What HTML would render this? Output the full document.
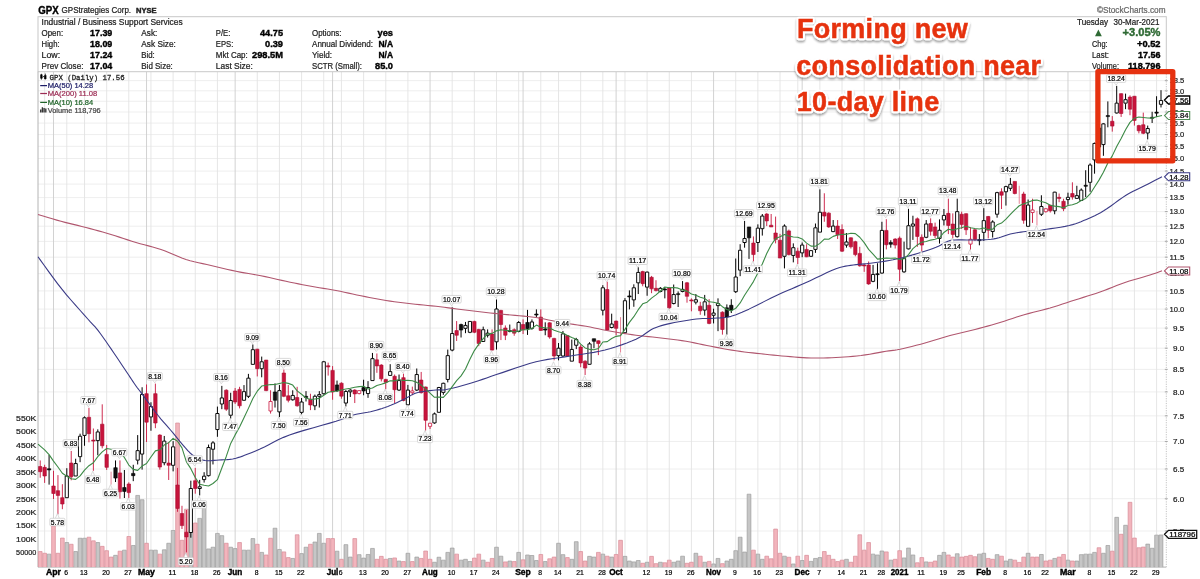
<!DOCTYPE html>
<html><head><meta charset="utf-8"><title>GPX</title>
<style>html,body{margin:0;padding:0;background:#fff}body{width:1200px;height:579px;overflow:hidden;font-family:"Liberation Sans",sans-serif}svg{display:block;will-change:transform}</style>
</head><body>
<svg width="1200" height="579" viewBox="0 0 1200 579" font-family="Liberation Sans, sans-serif">
<rect width="1200" height="579" fill="#fff"/>
<path d="M38 531.03H1166.3M38 498.72H1166.3M38 469H1166.3M38 441.48H1166.3M38 415.87H1166.3M38 391.9H1166.3M38 369.39H1166.3M38 348.17H1166.3M38 328.1H1166.3M38 309.05H1166.3M38 290.93H1166.3M38 273.66H1166.3M38 257.16H1166.3M38 241.35H1166.3M38 226.2H1166.3M38 211.63H1166.3M38 197.62H1166.3M38 184.12H1166.3M38 171.09H1166.3M38 158.5H1166.3M38 146.33H1166.3M38 134.54H1166.3M38 123.11H1166.3M38 112.03H1166.3M38 101.26H1166.3M38 90.8H1166.3M38 80.63H1166.3" stroke="#ececec" stroke-width="0.9" fill="none"/>
<path d="M44.64 71.7V567.1M66.8 71.7V567.1M84.52 71.7V567.1M106.66 71.7V567.1M128.81 71.7V567.1M150.96 71.7V567.1M173.11 71.7V567.1M195.26 71.7V567.1M217.41 71.7V567.1M257.28 71.7V567.1M279.43 71.7V567.1M301.58 71.7V567.1M323.73 71.7V567.1M341.45 71.7V567.1M363.6 71.7V567.1M385.75 71.7V567.1M407.9 71.7V567.1M452.2 71.7V567.1M474.35 71.7V567.1M496.5 71.7V567.1M518.65 71.7V567.1M540.8 71.7V567.1M558.52 71.7V567.1M580.67 71.7V567.1M602.82 71.7V567.1M624.97 71.7V567.1M647.12 71.7V567.1M669.27 71.7V567.1M691.42 71.7V567.1M735.72 71.7V567.1M757.88 71.7V567.1M780.02 71.7V567.1M797.75 71.7V567.1M819.89 71.7V567.1M842.04 71.7V567.1M864.19 71.7V567.1M881.91 71.7V567.1M921.78 71.7V567.1M943.93 71.7V567.1M961.65 71.7V567.1M1005.95 71.7V567.1M1028.11 71.7V567.1M1045.82 71.7V567.1M1090.12 71.7V567.1M1112.27 71.7V567.1M1134.42 71.7V567.1M1156.57 71.7V567.1" stroke="#e3e3e3" stroke-width="0.9" fill="none"/>
<path d="M53.5 71.7V567.1M146.53 71.7V567.1M235.13 71.7V567.1M332.59 71.7V567.1M430.05 71.7V567.1M523.09 71.7V567.1M616.12 71.7V567.1M713.57 71.7V567.1M802.17 71.7V567.1M899.63 71.7V567.1M983.8 71.7V567.1M1067.97 71.7V567.1" stroke="#cdcdcd" stroke-width="0.9" fill="none"/>
<rect x="38" y="16.7" width="1128.3" height="55" fill="#fff" stroke="#c8c8c8" stroke-width="1"/>
<path d="M38 71.7V567.1H1166.3" stroke="#b4b4b4" stroke-width="1" fill="none"/>
<path d="M1166.3 71.7V567.1" stroke="#c2c2c2" stroke-width="1" fill="none" stroke-dasharray="1.2 1.2"/>
<path d="M47.21 567.1V554.13H50.94V567.1M64.93 567.1V542.56H68.66V567.1M73.79 567.1V551.54H77.52V567.1M78.22 567.1V538.24H81.95V567.1M82.65 567.1V538.24H86.38V567.1M95.94 567.1V542.56H99.67V567.1M113.66 567.1V555.34H117.39V567.1M122.52 567.1V550.16H126.25V567.1M131.38 567.1V545.49H135.11V567.1M135.81 567.1V495.41H139.54V567.1M140.24 567.1V499.73H143.97V567.1M149.1 567.1V550.16H152.83V567.1M153.53 567.1V550.16H157.26V567.1M162.39 567.1V549.81H166.12V567.1M166.82 567.1V543.25H170.55V567.1M171.25 567.1V530.47H174.98V567.1M188.97 567.1V530.81H192.7V567.1M197.83 567.1V518.38H201.56V567.1M202.26 567.1V504.91H205.99V567.1M206.69 567.1V548.95H210.42V567.1M211.12 567.1V547.22H214.85V567.1M215.55 567.1V533.4H219.28V567.1M219.98 567.1V535.65H223.71V567.1M228.84 567.1V547.22H232.57V567.1M233.27 567.1V548.6H237V567.1M242.13 567.1V550.16H245.86V567.1M246.56 567.1V550.16H250.29V567.1M250.99 567.1V538.59H254.72V567.1M259.85 567.1V552.4H263.58V567.1M273.14 567.1V528.22H276.87V567.1M277.57 567.1V549.47H281.3V567.1M290.86 567.1V558.45H294.59V567.1M299.72 567.1V553.61H303.45V567.1M304.15 567.1V547.22H307.88V567.1M313.01 567.1V542.04H316.74V567.1M317.44 567.1V533.4H321.17V567.1M321.87 567.1V543.25H325.6V567.1M335.16 567.1V551.19H338.89V567.1M344.02 567.1V544.63H347.75V567.1M348.45 567.1V557.07H352.18V567.1M357.31 567.1V554.65H361.04V567.1M361.74 567.1V558.1H365.47V567.1M366.17 567.1V554.47H369.9V567.1M370.6 567.1V548.43H374.33V567.1M388.32 567.1V558.45H392.05V567.1M397.18 567.1V561.04H400.91V567.1M406.04 567.1V553.27H409.77V567.1M414.9 567.1V557.07H418.63V567.1M432.62 567.1V562.25H436.35V567.1M437.05 567.1V557.24H440.78V567.1M441.48 567.1V560.17H445.21V567.1M445.91 567.1V552.4H449.64V567.1M450.34 567.1V548.08H454.07V567.1M459.2 567.1V560.17H462.93V567.1M463.63 567.1V559.31H467.36V567.1M468.06 567.1V561.56H471.79V567.1M481.35 567.1V560.17H485.08V567.1M494.64 567.1V547.22H498.37V567.1M499.07 567.1V556.2H502.8V567.1M507.93 567.1V561.04H511.66V567.1M516.79 567.1V552.4H520.52V567.1M525.65 567.1V554.99H529.38V567.1M530.08 567.1V555.51H533.81V567.1M534.51 567.1V560.52H538.24V567.1M543.37 567.1V561.56H547.1V567.1M556.66 567.1V543.25H560.39V567.1M561.09 567.1V554.65H564.82V567.1M569.95 567.1V559.31H573.68V567.1M574.38 567.1V541.69H578.11V567.1M587.67 567.1V556.37H591.4V567.1M592.1 567.1V557.07H595.83V567.1M600.96 567.1V554.13H604.69V567.1M609.82 567.1V557.07H613.55V567.1M623.11 567.1V556.37H626.84V567.1M627.54 567.1V561.04H631.27V567.1M631.97 567.1V561.9H635.7V567.1M636.4 567.1V560.52H640.13V567.1M645.26 567.1V562.25H648.99V567.1M658.55 567.1V562.25H662.28V567.1M671.84 567.1V562.25H675.57V567.1M676.27 567.1V561.04H680V567.1M680.7 567.1V556.2H684.43V567.1M693.99 567.1V553.27H697.72V567.1M702.85 567.1V562.25H706.58V567.1M711.71 567.1V563.97H715.44V567.1M716.14 567.1V558.45H719.87V567.1M725 567.1V561.04H728.73V567.1M729.43 567.1V559.31H733.16V567.1M733.86 567.1V550.68H737.59V567.1M738.29 567.1V537.2H742.02V567.1M742.72 567.1V552.06H746.45V567.1M747.15 567.1V494.2H750.88V567.1M756.01 567.1V554.13H759.74V567.1M760.44 567.1V559.31H764.17V567.1M782.59 567.1V556.2H786.32V567.1M791.45 567.1V563.97H795.18V567.1M800.31 567.1V560.52H804.04V567.1M809.17 567.1V561.38H812.9V567.1M813.6 567.1V558.45H817.33V567.1M818.03 567.1V557.58H821.76V567.1M844.61 567.1V559.31H848.34V567.1M871.19 567.1V554.13H874.92V567.1M875.62 567.1V554.99H879.35V567.1M880.05 567.1V551.02H883.78V567.1M888.91 567.1V560.17H892.64V567.1M902.2 567.1V557.93H905.93V567.1M906.63 567.1V548.08H910.36V567.1M911.06 567.1V554.99H914.79V567.1M924.35 567.1V561.9H928.08V567.1M937.64 567.1V555.34H941.37V567.1M942.07 567.1V552.4H945.8V567.1M955.36 567.1V553.78H959.09V567.1M977.51 567.1V554.13H981.24V567.1M981.94 567.1V553.27H985.67V567.1M995.23 567.1V554.65H998.96V567.1M1004.09 567.1V561.04H1007.82V567.1M1008.52 567.1V559.31H1012.25V567.1M1026.24 567.1V553.27H1029.97V567.1M1039.53 567.1V554.47H1043.26V567.1M1052.82 567.1V558.45H1056.55V567.1M1066.11 567.1V560.17H1069.84V567.1M1074.97 567.1V561.04H1078.7V567.1M1079.4 567.1V554.65H1083.13V567.1M1083.83 567.1V554.13H1087.56V567.1M1088.26 567.1V554.13H1091.99V567.1M1092.69 567.1V552.4H1096.42V567.1M1101.55 567.1V553.27H1105.28V567.1M1105.98 567.1V545.49H1109.71V567.1M1114.84 567.1V517.34H1118.57V567.1M1123.7 567.1V525.29H1127.43V567.1M1145.85 567.1V544.11H1149.58V567.1M1150.28 567.1V548.26H1154.01V567.1M1154.71 567.1V535.13H1158.44V567.1M1159.14 567.1V534.96H1162.87V567.1" fill="#c6c6c6" stroke="#9c9c9c" stroke-width="0.7"/>
<path d="M38.35 567.1V551.54H42.08V567.1M42.78 567.1V553.27H46.51V567.1M51.64 567.1V525.98H55.37V567.1M56.07 567.1V553.27H59.8V567.1M60.5 567.1V538.07H64.23V567.1M69.36 567.1V544.28H73.09V567.1M87.08 567.1V537.2H90.81V567.1M91.51 567.1V540.83H95.24V567.1M100.37 567.1V546.36H104.1V567.1M104.8 567.1V550.68H108.53V567.1M109.23 567.1V557.07H112.96V567.1M118.09 567.1V551.19H121.82V567.1M126.95 567.1V536.51H130.68V567.1M144.67 567.1V543.25H148.4V567.1M157.96 567.1V554.13H161.69V567.1M175.68 567.1V423.04H179.41V567.1M180.11 567.1V540.31H183.84V567.1M184.54 567.1V509.22H188.27V567.1M193.4 567.1V523.04H197.13V567.1M224.41 567.1V543.25H228.14V567.1M237.7 567.1V542.56H241.43V567.1M255.42 567.1V544.28H259.15V567.1M264.28 567.1V554.99H268.01V567.1M268.71 567.1V538.24H272.44V567.1M282 567.1V551.88H285.73V567.1M286.43 567.1V557.58H290.16V567.1M295.29 567.1V534.79H299.02V567.1M308.58 567.1V544.28H312.31V567.1M326.3 567.1V538.59H330.03V567.1M330.73 567.1V538.59H334.46V567.1M339.59 567.1V559.31H343.32V567.1M352.88 567.1V538.59H356.61V567.1M375.03 567.1V559.31H378.76V567.1M379.46 567.1V556.37H383.19V567.1M383.89 567.1V559.31H387.62V567.1M392.75 567.1V557.93H396.48V567.1M401.61 567.1V561.56H405.34V567.1M410.47 567.1V561.56H414.2V567.1M419.33 567.1V558.45H423.06V567.1M423.76 567.1V551.02H427.49V567.1M428.19 567.1V559.31H431.92V567.1M454.77 567.1V554.13H458.5V567.1M472.49 567.1V558.1H476.22V567.1M476.92 567.1V554.13H480.65V567.1M485.78 567.1V562.25H489.51V567.1M490.21 567.1V558.45H493.94V567.1M503.5 567.1V561.9H507.23V567.1M512.36 567.1V561.56H516.09V567.1M521.22 567.1V559.83H524.95V567.1M538.94 567.1V554.47H542.67V567.1M547.8 567.1V558.79H551.53V567.1M552.23 567.1V557.07H555.96V567.1M565.52 567.1V557.58H569.25V567.1M578.81 567.1V551.54H582.54V567.1M583.24 567.1V561.04H586.97V567.1M596.53 567.1V552.4H600.26V567.1M605.39 567.1V556.2H609.12V567.1M614.25 567.1V554.47H617.98V567.1M618.68 567.1V540.31H622.41V567.1M640.83 567.1V563.28H644.56V567.1M649.69 567.1V556.37H653.42V567.1M654.12 567.1V563.63H657.85V567.1M662.98 567.1V562.77H666.71V567.1M667.41 567.1V560.17H671.14V567.1M685.13 567.1V563.28H688.86V567.1M689.56 567.1V562.25H693.29V567.1M698.42 567.1V556.2H702.15V567.1M707.28 567.1V561.38H711.01V567.1M720.57 567.1V563.63H724.3V567.1M751.58 567.1V550.16H755.31V567.1M764.87 567.1V556.2H768.6V567.1M769.3 567.1V558.79H773.03V567.1M773.73 567.1V529.09H777.46V567.1M778.16 567.1V553.27H781.89V567.1M787.02 567.1V557.24H790.75V567.1M795.88 567.1V556.2H799.61V567.1M804.74 567.1V555.34H808.47V567.1M822.46 567.1V551.54H826.19V567.1M826.89 567.1V555.34H830.62V567.1M831.32 567.1V559.31H835.05V567.1M835.75 567.1V561.56H839.48V567.1M840.18 567.1V560.17H843.91V567.1M849.04 567.1V562.25H852.77V567.1M853.47 567.1V556.2H857.2V567.1M857.9 567.1V534.79H861.63V567.1M862.33 567.1V550.16H866.06V567.1M866.76 567.1V542.56H870.49V567.1M884.48 567.1V551.88H888.21V567.1M893.34 567.1V559.31H897.07V567.1M897.77 567.1V550.68H901.5V567.1M915.49 567.1V562.77H919.22V567.1M919.92 567.1V557.58H923.65V567.1M928.78 567.1V562.25H932.51V567.1M933.21 567.1V561.04H936.94V567.1M946.5 567.1V554.99H950.23V567.1M950.93 567.1V557.07H954.66V567.1M959.79 567.1V557.07H963.52V567.1M964.22 567.1V556.37H967.95V567.1M968.65 567.1V555.34H972.38V567.1M973.08 567.1V556.72H976.81V567.1M986.37 567.1V558.45H990.1V567.1M990.8 567.1V559.31H994.53V567.1M999.66 567.1V556.2H1003.39V567.1M1012.95 567.1V560.17H1016.68V567.1M1017.38 567.1V562.42H1021.11V567.1M1021.81 567.1V557.07H1025.54V567.1M1030.67 567.1V557.07H1034.4V567.1M1035.1 567.1V557.07H1038.83V567.1M1043.96 567.1V561.04H1047.69V567.1M1048.39 567.1V560.17H1052.12V567.1M1057.25 567.1V557.07H1060.98V567.1M1061.68 567.1V554.47H1065.41V567.1M1070.54 567.1V561.04H1074.27V567.1M1097.12 567.1V547.74H1100.85V567.1M1110.41 567.1V551.19H1114.14V567.1M1119.27 567.1V534.27H1123V567.1M1128.13 567.1V502.32H1131.86V567.1M1132.56 567.1V538.07H1136.29V567.1M1136.99 567.1V547.74H1140.72V567.1M1141.42 567.1V547.05H1145.15V567.1" fill="#f2b4bc" stroke="#d98c98" stroke-width="0.7"/>
<path d="M111.09 471.68V484.63M620.54 317.13V352.54M1019.24 185.73V203.86M1036.96 210.81V225.49" stroke="#e0647c" stroke-width="0.8" fill="none"/>
<path d="M40.22 460.45V477.72M44.64 464.77V482.9M53.5 470.8V499M57.94 475.1V514.4M62.36 484.2V509.2M71.22 450.95V480.31M88.94 407.77V442.31M93.38 428.5V470.81M102.23 404.32V448.36M106.66 444.91V469.95M119.95 460.4V498.6M128.81 482.3V498M146.53 384.48V441.99M155.39 383.62V428.18M159.82 434.22V469.63M168.69 441.99V479.99M177.54 467.9V511.8M181.97 505.8V529M186.41 510V552.4M195.26 467.9V493.7M226.27 389.32V410.91M235.13 388V404M239.56 386.81V408.4M257.28 348.82V376.45M266.14 360.04V391.13M270.57 390.27V401.49M270.57 410.99V413.58M283.87 369.54V397.18M288.29 385.09V402.36M297.15 386.81V406.68M310.44 393.72V410.13M328.16 362.63V375.59M332.59 366.09V399.77M341.45 382.31V398.72M354.75 389.22V403.04M359.17 390.09V390.6M359.17 393.54V394.4M376.89 353.47V372.82M381.32 364.18V381.45M385.75 378.86V389.22M394.61 374.54V403.04M403.47 373.68V401.31M412.33 386.63V390.95M412.33 392.68V395.27M421.19 371.95V393.54M425.62 386.63V430.67M430.05 422.9V423.25M430.05 426.36V428.95M456.63 321.09V340.95M474.35 320.74V333.18M478.78 328.86V346.13M492.07 329.38V350.45M500.93 309.86V340.09M505.36 325.41V340.09M514.22 328.34V335.77M523.09 319.36V334.04M540.8 309.36V330.95M549.66 322.31V338.72M554.09 337.86V360.31M567.38 335.27V356.86M580.67 344.77V367.22M585.11 360.31V374.99M598.39 340.45V355.13M607.25 281.73V330.95M616.12 320.59V335.27M642.69 270.73V286.27M651.55 275.91V293.18M655.99 280.22V291.45M669.27 287.13V308.72M687 281.95V302.68M691.42 298.36V311.31M700.28 301.81V314.77M709.14 299.22V324.27M722.43 311.31V334.63M753.44 236.45V261.49M766.73 213.13V226.09M771.16 214V226.95M775.59 216.59V243.36M780.02 233.86V258.04M788.88 229.54V255.45M797.75 247.68V264.08M806.6 244.22V257.18M824.32 193.27V221.77M828.75 212.27V227.82M837.61 220.04V239.04M842.04 224.36V251.99M850.9 237.31V248.54M855.33 240.77V256.31M859.76 246.81V266.68M864.19 264.08V271.86M868.62 261.49V284.81M886.34 219.18V249.4M895.2 238.18V248.54M899.63 236.45V281.01M917.35 217.45V246.81M921.78 234.38V251.99M930.64 218.32V235.59M935.07 222.63V238.18M948.36 198.68V234.08M952.79 213.36V238.4M961.65 211.63V228.9M966.08 213.36V234.95M970.51 227.18V239.27M970.51 244.1V249.63M974.94 228.9V240.99M988.23 215.95V238.4M1001.52 188.32V209.04M1014.81 181.41V194.36M1023.67 191.77V223.72M1032.53 198.72V209.95M1032.53 212.54V222.9M1045.82 208.22V208.74M1045.82 211.68V212.54M1050.25 204.77V212.54M1059.11 193.54V202.18M1063.54 198.72V211.16M1072.4 182.31V199.59M1112.27 116.09V131.63M1121.13 93.29V116.95M1129.99 95.36V115.22M1134.42 96.22V125.59M1138.86 124.72V133.36M1143.28 112.63V134.22" stroke="#c8143c" stroke-width="0.9" fill="none"/>
<path d="M49.08 454.92V484.63M66.8 468.2V476M66.8 497.7V497.7M75.66 458.72V463.56M75.66 475.99V475.99M80.08 433.68V436.27M80.08 456.65V462.18M84.52 416.41V417.79M84.52 435.41V445.77M97.8 429.36V431.95M97.8 440.59V455.27M115.52 460.45V482.04M124.38 470V498M133.25 464.77V481.17M137.68 435.09V450.63M137.68 460.13V464.45M142.1 387.25V394.5M142.1 454.08V469.63M150.96 402.27V406.59M150.96 416.95V430.77M164.25 435.95V441.13M164.25 462.72V465.31M173.11 441.13V446.83M173.11 465.31V471.36M190.83 480.7V488.5M190.83 532.5V537.7M199.69 479.9V486.8M199.69 488.5V495.4M204.12 472.2V476.2M204.12 479.6V482.6M208.55 444.59V447.52M208.55 475.67V476.54M212.98 441.13V442.86M212.98 449.25V464.45M217.41 406.59V413.5M217.41 429.56V436.81M221.84 385.86V397.95M221.84 404V409.18M230.7 392.77V400.54M230.7 415.22V418.68M243.99 385.09V391.65M243.99 400.28V400.63M248.42 373.86V378.18M248.42 396.31V398.04M252.85 344.5V349.68M252.85 364.36V364.36M261.71 356.59V361.77M261.71 368.68V377.31M275 383.36V407.54M279.43 385.09V390.61M279.43 411.86V417.04M292.73 390.27V395.45M292.73 399.77V400.63M301.58 398.04V402.01M301.58 412.37V414.45M306.01 391.13V401.49M314.88 394.59V396.31M314.88 405.81V410.13M319.31 391.13V394.59M319.31 396.31V407.54M323.73 360.91V361.77M323.73 393.72V394.59M337.02 380.59V391.81M345.88 390.09V391.47M345.88 403.04V406.49M350.31 389.22V390.09M350.31 391.81V396.99M363.6 379.72V395.27M368.03 381.11V387.5M368.03 393.54V397.86M372.46 352.95V358.65M372.46 380.59V380.59M390.19 364.18V371.61M390.19 375.41V375.41M399.04 374.54V380.59M399.04 390.09V390.95M407.9 384.91V390.09M407.9 404.77V405.28M416.76 368.5V374.54M416.76 390.09V390.95M434.48 412.54V413.92M434.48 422.9V423.77M438.91 386.9V387.5M438.91 412.3V412.5M443.34 382.7V383.3M443.34 392.4V394.8M447.77 349.59V355.63M447.77 379.46V382.4M452.2 307.27V333.52M452.2 350.1V351.31M461.06 323.68V337.5M465.49 321.95V325.41M465.49 328.34V333.18M469.92 321.09V321.43M469.92 332.31V333.18M483.21 326.61V329.72M483.21 341.47V341.81M487.64 329.38V333.18M487.64 335.25V337.5M496.5 299.5V309M496.5 341.81V349.59M509.79 324.54V332.31M518.65 321.09V322.47M518.65 331.45V332.31M527.51 309.86V334.91M531.94 319.36V321.95M531.94 328.34V329.72M536.38 309.36V317.13M545.23 322.31V335.27M558.52 343.04V348.22M558.52 355.65V360.31M562.95 330.95V333.89M562.95 355.99V356.86M571.81 339.59V349.43M571.81 361.17V361.17M576.25 337.86V339.59M576.25 345.28V349.08M589.53 342.18V343.9M589.53 364.28V364.63M593.96 338.72V348.22M602.82 285.18V287.77M602.82 310.22V315.41M611.68 313.68V324.04M611.68 327.5V328.36M624.97 298.13V300.73M624.97 332.68V332.68M629.4 290.36V309.36M633.83 284.32V287.77M633.83 299.86V306.77M638.26 267.27V272.45M638.26 282.82V294.04M647.12 271.59V272.11M647.12 287.13V295.77M660.41 287.13V288.34M660.41 291.45V292.31M664.84 287.13V298.36M673.7 284.54V294.56M673.7 303.54V304.4M678.13 291.45V306.99M682.56 281.09V289.38M682.56 291.45V292.31M695.85 294.04V299.74M695.85 302.16V304.4M704.71 294.91V301.81M704.71 310.1V315.63M713.57 308.72V313.04M713.57 315.28V323.4M718 298.36V303.54M718 305.61V331.17M726.87 304.4V334.63M731.29 299.22V313.04M735.72 258.5V277M735.72 291.7V293M740.15 244.22V250.27M740.15 270.13V276.17M744.58 220.91V238.52M744.58 242.5V247.68M749.01 226.95V258.9M757.88 224.36V228.16M757.88 242.5V251.99M762.3 214V216.07M762.3 228.68V235.59M784.45 224.36V226.09M784.45 256.31V268.4M793.31 243.36V247.68M793.31 255.45V262.36M802.17 242.5V245.09M802.17 252.86V257.18M811.03 250.27V250.61M811.03 256.31V256.83M815.46 223.5V227.82M815.46 249.4V252.86M819.89 189.3V212.27M819.89 232.13V232.13M833.18 220.04V226.09M833.18 231.61V232.13M846.47 233V241.98M846.47 245.09V247.68M873.05 264.95V274.45M873.05 281.36V282.22M877.48 263.22V289.13M881.91 221.77V230.41M881.91 273.07V273.58M890.77 240.25V247.68M904.06 241.63V258.56M904.06 271.86V272.72M908.49 208.82V225.74M908.49 248.89V249.4M912.92 215.73V224.02M912.92 226.09V239.91M926.21 220.04V224.02M926.21 237.31V238.18M939.5 219.4V230.28M939.5 238.4V243.58M943.93 209.04V215.43M943.93 219.92V225.45M957.22 198.68V211.63M957.22 236.68V237.54M979.37 234.08V245.31M983.8 208.18V220.61M983.8 232.36V240.99M992.66 220.27V221.99M992.66 231.49V237.54M997.09 191.77V192.63M997.09 214.22V217.68M1005.95 185.73V186.59M1005.95 191.77V205.59M1010.38 177.95V184.34M1010.38 188.32V190.91M1028.11 199.54V205.07M1028.11 226.31V226.31M1041.39 195.27V206.49M1041.39 214.27V215.99M1054.68 191.81V192.16M1054.68 210.81V214.27M1067.97 192.68V197.34M1067.97 199.59V204.77M1076.84 185.77V195.61M1076.84 198.38V198.72M1081.26 188.36V190.09M1081.26 200.45V200.79M1085.69 170.22V196.99M1090.12 163.32V165.04M1090.12 182.31V191.81M1094.55 142.59V143.45M1094.55 159.86V173.68M1098.98 126V128M1098.98 147V150M1103.41 122.99V123.86M1103.41 144.58V155.81M1107.85 101.41V127.31M1116.7 85.86V103.13M1116.7 112.98V113.5M1125.56 93.63V99.68M1125.56 103.13V109.18M1147.71 125.59V128.52M1147.71 133.01V139.4M1152.14 111.77V122.99M1156.57 96.22V116.95M1161 90.18V100.54M1161 104.34V107.45" stroke="#000" stroke-width="1" fill="none"/>
<path d="M38.52 466.49H41.92V471.68H38.52ZM42.94 467.36H46.34V475.99H42.94ZM51.8 486H55.2V493.5H51.8ZM56.23 490.7H59.64V495.4H56.23ZM60.66 497.7H64.06V504H60.66ZM69.52 463.04H72.92V476.86H69.52ZM87.24 417.27H90.64V433.68H87.24ZM91.67 440.07H95.08V441.11H91.67ZM100.53 424.18H103.94V445.77H100.53ZM104.96 454.4H108.36V467.36H104.96ZM118.25 472.9H121.66V491.8H118.25ZM127.11 484H130.51V492.6H127.11ZM144.84 393.64H148.23V422.13H144.84ZM153.69 393.64H157.09V423H153.69ZM158.12 435.09H161.52V467.04H158.12ZM166.99 463.07H170.38V465.31H166.99ZM175.84 485H179.24V508.4H175.84ZM180.28 513.5H183.67V525.6H180.28ZM184.71 532.2H188.1V536.9H184.71ZM193.56 480.7H196.96V488.5H193.56ZM224.57 390.18H227.97V409.18H224.57ZM233.44 391H236.83V402H233.44ZM237.87 389.4H241.26V405.81H237.87ZM255.58 349.16H258.98V368.68H255.58ZM264.44 360.04H267.84V390.61H264.44ZM282.17 373H285.56V396.31H282.17ZM286.59 395.79H289.99V400.28H286.59ZM295.45 397.52H298.85V405.81H295.45ZM308.75 399.25H312.14V404.95H308.75ZM326.46 365.74H329.86V366.95H326.46ZM330.89 370.41H334.29V391.99H330.89ZM339.75 383.18H343.15V396.13H339.75ZM353.05 390.09H356.44V393.89H353.05ZM375.19 359.86H378.59V365.91H375.19ZM379.62 365.04H383.02V378.86H379.62ZM384.06 379.38H387.45V382.31H384.06ZM392.91 376.27H396.31V389.74H392.91ZM401.77 377.65H405.17V400.45H401.77ZM419.5 380.07H422.89V392.68H419.5ZM423.93 386.98H427.32V420.31H423.93ZM454.94 330.59H458.33V335.25H454.94ZM472.65 321.43H476.05V332.31H472.65ZM477.08 329.38H480.48V343.54H477.08ZM490.38 334.04H493.77V350.1H490.38ZM499.23 310.38H502.63V324.54H499.23ZM503.66 328H507.06V335.25H503.66ZM512.52 329.72H515.92V333.18H512.52ZM521.38 324.54H524.79V329.72H521.38ZM539.1 317.13H542.5V330.43H539.1ZM547.96 322.83H551.37V336.99H547.96ZM552.39 338.38H555.79V355.99H552.39ZM565.68 335.61H569.09V355.99H565.68ZM578.97 347.01H582.38V362.9H578.97ZM583.4 361.17H586.81V368.08H583.4ZM596.69 340.79H600.1V343.56H596.69ZM605.55 289.5H608.96V330.09H605.55ZM614.41 321.11H617.82V328.36H614.41ZM640.99 271.59H644.39V283.68H640.99ZM649.85 277.29H653.25V288.86H649.85ZM654.28 288.34H657.69V290.59H654.28ZM667.57 288H670.98V307.86H667.57ZM685.29 282.82H688.7V296.29H685.29ZM689.72 299.91H693.12V300.95H689.72ZM698.58 306.13H701.99V310.79H698.58ZM707.44 305.27H710.85V323.4H707.44ZM720.73 312.18H724.13V329.45H720.73ZM751.74 243.01H755.14V254.59H751.74ZM765.03 214H768.43V220.91H765.03ZM769.46 225.22H772.87V226.95H769.46ZM773.89 233H777.29V239.56H773.89ZM778.32 240.25H781.73V258.04H778.32ZM787.18 230.92H790.59V254.59H787.18ZM796.04 251.13H799.45V257.52H796.04ZM804.9 249.4H808.3V256.83H804.9ZM822.62 212.27H826.02V216.07H822.62ZM827.05 213.13H830.46V226.95H827.05ZM835.91 226.09H839.31V234.72H835.91ZM840.34 229.54H843.75V251.13H840.34ZM849.2 237.83H852.61V246.81H849.2ZM853.63 241.63H857.03V254.59H853.63ZM858.06 253.38H861.47V265.81H858.06ZM862.49 264.95H865.89V265.98H862.49ZM866.92 264.95H870.33V283.95H866.92ZM884.64 230.41H888.04V244.74H884.64ZM893.5 239.04H896.9V245.09H893.5ZM897.93 238.18H901.34V269.27H897.93ZM915.65 218.83H919.05V236.45H915.65ZM920.08 237.31H923.49V245.09H920.08ZM928.94 223.5H932.35V231.27H928.94ZM933.37 226.95H936.77V235.59H933.37ZM946.66 213.36H950.06V225.45H946.66ZM951.09 224.07H954.5V234.43H951.09ZM959.95 214.22H963.36V224.59H959.95ZM964.38 213.7H967.78V229.77H964.38ZM973.24 229.77H976.64V239.61H973.24ZM986.53 216.47H989.93V230.28H986.53ZM999.82 191.77H1003.23V195.22H999.82ZM1013.11 181.41H1016.51V193.5H1013.11ZM1021.97 194.02H1025.38V220.27H1021.97ZM1048.55 205.28H1051.95V210.81H1048.55ZM1057.41 197.34H1060.81V198.38H1057.41ZM1061.84 201.31H1065.24V208.74H1061.84ZM1070.7 193.54H1074.11V196.99H1070.7ZM1110.57 121.27H1113.97V126.1H1110.57ZM1119.43 93.63H1122.84V113.5H1119.43ZM1128.29 97.09H1131.69V109.18H1128.29ZM1132.72 96.22H1136.12V120.4H1132.72ZM1137.15 125.59H1140.56V130.77H1137.15ZM1141.58 124.72H1144.98V133.36H1141.58Z" fill="#c8143c" stroke="#a80f32" stroke-width="0.6"/>
<path d="M47.38 468.74H50.78V469.95H47.38ZM113.82 467.7H117.22V478.07H113.82ZM122.68 487.6H126.08V491.4H122.68ZM131.55 473.4H134.94V475.65H131.55ZM273.31 391.99H276.7V400.28H273.31ZM304.31 396.31H307.71V397.52H304.31ZM335.32 384.91H338.72V390.95H335.32ZM361.9 387.5H365.3V390.95H361.9ZM459.37 324.54H462.76V330.07H459.37ZM508.09 330.57H511.49V331.47H508.09ZM525.81 322.47H529.22V328.86H525.81ZM534.67 314.02H538.08V315.06H534.67ZM543.53 328.88H546.93V330.09H543.53ZM592.26 338.72H595.66V341.31H592.26ZM627.7 295.89H631.11V296.93H627.7ZM663.14 289.01H666.54V289.91H663.14ZM676.43 293.68H679.84V294.58H676.43ZM725.16 307.86H728.57V317.01H725.16ZM729.59 305.27H733V310.1H729.59ZM747.31 226.95H750.72V237.83H747.31ZM875.78 273.74H879.18V274.64H875.78ZM889.07 242.5H892.48V244.22H889.07ZM977.67 239.61H981.07V240.65H977.67ZM1083.99 185.25H1087.39V186.29H1083.99ZM1106.14 115.57H1109.55V116.6H1106.14ZM1150.44 117.3H1153.85V118.33H1150.44ZM1154.87 112.11H1158.27V113.15H1154.87Z" fill="#111" stroke="#000" stroke-width="0.6"/>
<path d="M65.2 476H68.39V497.7H65.2ZM74.06 463.56H77.25V475.99H74.06ZM78.48 436.27H81.68V456.65H78.48ZM82.92 417.79H86.11V435.41H82.92ZM96.2 431.95H99.4V440.59H96.2ZM136.08 450.63H139.28V460.13H136.08ZM140.5 394.5H143.7V454.08H140.5ZM149.36 406.59H152.56V416.95H149.36ZM162.66 441.13H165.85V462.72H162.66ZM171.51 446.83H174.71V465.31H171.51ZM189.23 488.5H192.43V532.5H189.23ZM198.09 486.8H201.29V488.5H198.09ZM202.53 476.2H205.72V479.6H202.53ZM206.95 447.52H210.15V475.67H206.95ZM211.38 442.86H214.58V449.25H211.38ZM215.81 413.5H219.01V429.56H215.81ZM220.25 397.95H223.44V404H220.25ZM229.1 400.54H232.3V415.22H229.1ZM242.39 391.65H245.59V400.28H242.39ZM246.82 378.18H250.02V396.31H246.82ZM251.25 349.68H254.45V364.36H251.25ZM260.11 361.77H263.31V368.68H260.11ZM277.83 390.61H281.03V411.86H277.83ZM291.12 395.45H294.33V399.77H291.12ZM299.98 402.01H303.19V412.37H299.98ZM313.27 396.31H316.48V405.81H313.27ZM317.7 394.59H320.91V396.31H317.7ZM322.13 361.77H325.33V393.72H322.13ZM344.28 391.47H347.49V403.04H344.28ZM348.71 390.09H351.92V391.81H348.71ZM366.43 387.5H369.63V393.54H366.43ZM370.86 358.65H374.06V380.59H370.86ZM388.58 371.61H391.79V375.41H388.58ZM397.44 380.59H400.64V390.09H397.44ZM406.3 390.09H409.5V404.77H406.3ZM415.16 374.54H418.37V390.09H415.16ZM432.88 413.92H436.08V422.9H432.88ZM437.31 387.5H440.51V412.3H437.31ZM441.74 383.3H444.94V392.4H441.74ZM446.17 355.63H449.38V379.46H446.17ZM450.6 333.52H453.81V350.1H450.6ZM463.89 325.41H467.09V328.34H463.89ZM468.32 321.43H471.52V332.31H468.32ZM481.61 329.72H484.81V341.47H481.61ZM486.04 333.18H489.25V335.25H486.04ZM494.9 309H498.11V341.81H494.9ZM517.05 322.47H520.25V331.45H517.05ZM530.34 321.95H533.54V328.34H530.34ZM556.92 348.22H560.12V355.65H556.92ZM561.35 333.89H564.55V355.99H561.35ZM570.21 349.43H573.41V361.17H570.21ZM574.64 339.59H577.85V345.28H574.64ZM587.93 343.9H591.13V364.28H587.93ZM601.22 287.77H604.42V310.22H601.22ZM610.08 324.04H613.28V327.5H610.08ZM623.37 300.73H626.57V332.68H623.37ZM632.23 287.77H635.43V299.86H632.23ZM636.66 272.45H639.87V282.82H636.66ZM645.52 272.11H648.73V287.13H645.52ZM658.81 288.34H662.01V291.45H658.81ZM672.1 294.56H675.3V303.54H672.1ZM680.96 289.38H684.16V291.45H680.96ZM694.25 299.74H697.45V302.16H694.25ZM703.11 301.81H706.31V310.1H703.11ZM711.97 313.04H715.17V315.28H711.97ZM716.4 303.54H719.61V305.61H716.4ZM734.12 277H737.32V291.7H734.12ZM738.55 250.27H741.75V270.13H738.55ZM742.98 238.52H746.18V242.5H742.98ZM756.27 228.16H759.48V242.5H756.27ZM760.7 216.07H763.9V228.68H760.7ZM782.85 226.09H786.05V256.31H782.85ZM791.71 247.68H794.91V255.45H791.71ZM800.57 245.09H803.77V252.86H800.57ZM809.43 250.61H812.63V256.31H809.43ZM813.86 227.82H817.06V249.4H813.86ZM818.29 212.27H821.5V232.13H818.29ZM831.58 226.09H834.78V231.61H831.58ZM844.87 241.98H848.07V245.09H844.87ZM871.45 274.45H874.65V281.36H871.45ZM880.31 230.41H883.51V273.07H880.31ZM902.46 258.56H905.66V271.86H902.46ZM906.89 225.74H910.09V248.89H906.89ZM911.32 224.02H914.52V226.09H911.32ZM924.61 224.02H927.81V237.31H924.61ZM937.9 230.28H941.11V238.4H937.9ZM942.33 215.43H945.53V219.92H942.33ZM955.62 211.63H958.82V236.68H955.62ZM982.2 220.61H985.4V232.36H982.2ZM991.06 221.99H994.26V231.49H991.06ZM995.49 192.63H998.69V214.22H995.49ZM1004.35 186.59H1007.55V191.77H1004.35ZM1008.78 184.34H1011.99V188.32H1008.78ZM1026.51 205.07H1029.7V226.31H1026.51ZM1039.8 206.49H1042.99V214.27H1039.8ZM1053.09 192.16H1056.28V210.81H1053.09ZM1066.38 197.34H1069.57V199.59H1066.38ZM1075.24 195.61H1078.43V198.38H1075.24ZM1079.66 190.09H1082.86V200.45H1079.66ZM1088.53 165.04H1091.72V182.31H1088.53ZM1092.95 143.45H1096.15V159.86H1092.95ZM1097.38 128H1100.58V147H1097.38ZM1101.82 123.86H1105.01V144.58H1101.82ZM1115.11 103.13H1118.3V112.98H1115.11ZM1123.96 99.68H1127.16V103.13H1123.96ZM1146.12 128.52H1149.31V133.01H1146.12ZM1159.4 100.54H1162.6V104.34H1159.4Z" fill="#fff" stroke="#000" stroke-width="0.95"/>
<path d="M268.97 401.49H272.18V410.99H268.97ZM357.57 390.6H360.77V393.54H357.57ZM410.73 390.95H413.94V392.68H410.73ZM428.45 423.25H431.65V426.36H428.45ZM968.91 239.27H972.12V244.1H968.91ZM1030.93 209.95H1034.13V212.54H1030.93ZM1044.22 208.74H1047.42V211.68H1044.22Z" fill="#fff" stroke="#c8143c" stroke-width="0.8"/>
<path d="M38 214.5L40.48 215.25L43.89 216.29L47.94 217.51L52.33 218.83L56.78 220.12L61 221.3L65.05 222.36L69.19 223.38L73.38 224.39L77.59 225.4L81.81 226.43L86 227.5L90.17 228.61L94.33 229.74L98.5 230.89L102.67 232.06L106.83 233.27L111 234.5L115.17 235.79L119.33 237.13L123.5 238.5L127.67 239.87L131.83 241.21L136 242.5L140.17 243.69L144.33 244.8L148.5 245.88L152.67 246.98L156.83 248.17L161 249.5L165.17 251.04L169.33 252.76L173.5 254.56L177.67 256.35L181.83 258.03L186 259.5L190.17 260.73L194.33 261.8L198.5 262.76L202.67 263.66L206.83 264.56L211 265.5L215.17 266.49L219.33 267.5L223.5 268.49L227.67 269.47L231.83 270.41L236 271.3L240.17 272.11L244.33 272.86L248.5 273.57L252.67 274.27L256.83 275.01L261 275.8L265.17 276.66L269.33 277.58L273.5 278.52L277.67 279.47L281.83 280.4L286 281.3L290.17 282.17L294.33 283.03L298.5 283.88L302.67 284.71L306.83 285.52L311 286.3L315.17 287.03L319.33 287.72L323.5 288.38L327.67 289.05L331.83 289.75L336 290.5L340.17 291.33L344.33 292.21L348.5 293.12L352.67 294.04L356.83 294.94L361 295.8L365.17 296.63L369.33 297.46L373.5 298.27L377.67 299.06L381.83 299.8L386 300.5L390.17 301.14L394.33 301.73L398.5 302.29L402.67 302.81L406.83 303.31L411 303.8L415.17 304.25L419.33 304.67L423.5 305.06L427.67 305.44L431.83 305.85L436 306.3L440.17 306.8L444.33 307.32L448.5 307.87L452.67 308.42L456.83 308.97L461 309.5L465.17 310.02L469.33 310.53L473.5 311.04L477.67 311.54L481.83 312.03L486 312.5L490.17 312.95L494.33 313.37L498.5 313.78L502.67 314.19L506.83 314.59L511 315L515.17 315.39L519.33 315.74L523.5 316.09L527.67 316.48L531.83 316.94L536 317.5L540.17 318.2L544.33 319.03L548.5 319.92L552.67 320.83L556.83 321.71L561 322.5L565.17 323.19L569.33 323.81L573.5 324.4L577.67 324.99L581.83 325.61L586 326.3L590.17 327.08L594.33 327.92L598.5 328.79L602.67 329.67L606.83 330.52L611 331.3L615.17 332.03L619.33 332.72L623.5 333.39L627.67 334.02L631.83 334.63L636 335.2L640.17 335.72L644.33 336.2L648.5 336.64L652.67 337.07L656.83 337.52L661 338L665.17 338.5L669.33 339L673.5 339.51L677.67 340.06L681.83 340.65L686 341.3L690.17 342.04L694.33 342.86L698.5 343.73L702.67 344.61L706.83 345.48L711 346.3L715.17 347.1L719.33 347.89L723.5 348.68L727.67 349.43L731.83 350.14L736 350.8L740.17 351.39L744.33 351.93L748.5 352.43L752.67 352.89L756.83 353.35L761 353.8L765.17 354.25L769.33 354.7L773.5 355.13L777.67 355.54L781.83 355.94L786 356.3L790.17 356.66L794.33 357.01L798.5 357.34L802.67 357.63L806.83 357.85L811 358L815.17 358.06L819.33 358.05L823.5 357.98L827.67 357.86L831.83 357.7L836 357.5L840.17 357.28L844.33 357.03L848.5 356.73L852.67 356.39L856.83 355.98L861 355.5L865.29 354.9L869.74 354.19L874.19 353.41L878.48 352.63L882.47 351.9L886 351.3L888.84 350.88L891.07 350.6L893 350.38L894.93 350.13L897.16 349.76L900 349.2L903.53 348.42L907.52 347.49L911.81 346.44L916.26 345.31L920.71 344.16L925 343L929.17 341.81L933.33 340.54L937.5 339.24L941.67 337.94L945.83 336.68L950 335.5L954.17 334.42L958.33 333.43L962.5 332.47L966.67 331.52L970.83 330.54L975 329.5L979.17 328.4L983.33 327.28L987.5 326.12L991.67 324.94L995.83 323.74L1000 322.5L1004.17 321.21L1008.33 319.85L1012.5 318.47L1016.67 317.09L1020.83 315.76L1025 314.5L1029.17 313.35L1033.33 312.28L1037.5 311.25L1041.67 310.22L1045.83 309.15L1050 308L1054.17 306.75L1058.33 305.44L1062.5 304.09L1066.67 302.72L1070.83 301.35L1075 300L1079.17 298.68L1083.33 297.39L1087.5 296.09L1091.67 294.78L1095.83 293.42L1100 292L1104.17 290.48L1108.33 288.87L1112.5 287.22L1116.67 285.57L1120.83 283.98L1125 282.5L1129.32 281.1L1133.81 279.73L1138.31 278.42L1142.63 277.18L1146.59 276.04L1150 275L1152.89 274.06L1155.41 273.2L1157.56 272.43L1159.37 271.77L1160.84 271.22L1162 270.8" stroke="#b0566e" stroke-width="1.1" fill="none" stroke-linejoin="round"/>
<path d="M38 256.8L40.58 260.36L44.12 265.3L48.33 271.14L52.9 277.39L57.52 283.58L61.9 289.2L66.28 294.53L70.96 300L75.69 305.39L80.24 310.5L84.36 315.11L87.8 319L90.37 321.88L92.23 323.86L93.65 325.34L94.93 326.71L96.35 328.36L98.2 330.7L100.5 333.77L103.01 337.27L105.68 341.05L108.4 344.98L111.1 348.91L113.7 352.7L116.29 356.5L118.96 360.46L121.6 364.43L124.13 368.24L126.46 371.75L128.5 374.8L130.2 377.35L131.63 379.5L132.85 381.36L133.94 383L134.97 384.51L136 386L136.86 387.2L137.46 387.99L137.99 388.65L138.66 389.48L139.66 390.77L141.2 392.8L143.44 395.82L146.27 399.66L149.42 403.95L152.68 408.34L155.78 412.48L158.5 416L160.75 418.79L162.7 421.1L164.5 423.16L166.3 425.19L168.25 427.39L170.5 430L173.19 433.22L176.23 436.91L179.41 440.79L182.54 444.56L185.41 447.93L187.8 450.6L189.63 452.48L191.04 453.79L192.19 454.7L193.23 455.37L194.32 455.98L195.6 456.7L197.02 457.52L198.44 458.3L199.91 459.01L201.47 459.64L203.15 460.14L205 460.5L207.03 460.68L209.21 460.7L211.53 460.6L213.94 460.42L216.44 460.21L219 460L221.58 459.86L224.19 459.77L226.88 459.64L229.7 459.4L232.73 458.94L236 458.2L239.53 457.15L243.28 455.86L247.22 454.36L251.33 452.7L255.6 450.9L260 449L264.4 446.94L268.8 444.68L273.34 442.28L278.2 439.82L283.54 437.37L289.5 435L296.6 432.61L304.82 430.14L313.51 427.67L322.03 425.31L329.74 423.15L336 421.3L340.57 419.79L343.93 418.54L346.48 417.5L348.62 416.6L350.76 415.79L353.3 415L356.17 414.3L359.04 413.75L361.9 413.28L364.76 412.83L367.63 412.33L370.5 411.7L373.38 410.97L376.26 410.2L379.15 409.38L382.04 408.5L384.92 407.54L387.8 406.5L390.73 405.33L393.73 404.03L396.73 402.65L399.66 401.26L402.44 399.93L405 398.7L407.22 397.56L409.13 396.44L410.89 395.38L412.67 394.39L414.66 393.49L417 392.7L419.86 392.03L423.13 391.47L426.6 391.01L430.04 390.61L433.25 390.28L436 390L438.07 389.86L439.6 389.88L440.88 389.97L442.24 390.01L443.97 389.89L446.4 389.5L449.6 388.83L453.35 387.95L457.48 386.91L461.83 385.76L466.22 384.54L470.5 383.3L474.55 382.04L478.49 380.74L482.48 379.36L486.69 377.9L491.27 376.32L496.4 374.6L502.27 372.62L508.77 370.38L515.66 368.02L522.67 365.7L529.54 363.58L536 361.8L542.05 360.43L547.88 359.36L553.57 358.47L559.19 357.69L564.81 356.9L570.5 356L576.29 355.07L582.13 354.19L587.97 353.31L593.76 352.36L599.45 351.28L605 350L610.53 348.48L616.1 346.75L621.57 344.89L626.81 342.96L631.67 341.04L636 339.2L639.68 337.36L642.79 335.45L645.51 333.55L648.05 331.73L650.58 330.05L653.3 328.6L656.07 327.41L658.72 326.44L661.36 325.61L664.13 324.87L667.13 324.16L670.5 323.4L674.41 322.58L678.81 321.74L683.44 320.93L688.08 320.17L692.48 319.52L696.4 319L699.72 318.69L702.62 318.56L705.28 318.54L707.88 318.53L710.63 318.44L713.7 318.2L716.91 317.97L720.05 317.87L723.34 317.69L726.96 317.24L731.11 316.35L736 314.8L741.97 312.36L748.93 309.13L756.42 305.44L763.99 301.63L771.17 298.04L777.5 295L782.85 292.57L787.57 290.5L791.91 288.65L796.09 286.87L800.38 285.04L805 283L810.12 280.64L815.58 278.04L821.14 275.39L826.55 272.84L831.59 270.59L836 268.8L839.68 267.54L842.79 266.69L845.51 266.13L848.05 265.73L850.58 265.4L853.3 265L856.11 264.6L858.84 264.31L861.57 264.08L864.38 263.84L867.33 263.57L870.5 263.2L873.96 262.75L877.67 262.25L881.53 261.71L885.44 261.13L889.29 260.49L893 259.8L896.54 259.06L899.97 258.28L903.36 257.44L906.75 256.56L910.18 255.61L913.7 254.6L917.46 253.48L921.46 252.25L925.49 250.96L929.39 249.67L932.95 248.43L936 247.3L938.44 246.25L940.41 245.23L942.06 244.26L943.51 243.37L944.91 242.58L946.4 241.9L947.76 241.36L948.82 240.94L949.84 240.61L951.04 240.36L952.68 240.17L955 240L958.21 239.91L962.17 239.92L966.56 239.98L971.07 240.05L975.39 240.07L979.2 240L982.51 239.86L985.57 239.69L988.44 239.48L991.17 239.2L993.81 238.85L996.4 238.4L998.89 237.81L1001.22 237.07L1003.46 236.26L1005.67 235.43L1007.93 234.66L1010.3 234L1012.85 233.45L1015.54 232.95L1018.28 232.51L1020.97 232.11L1023.5 231.78L1025.8 231.5L1027.84 231.31L1029.7 231.21L1031.41 231.17L1033.01 231.14L1034.53 231.1L1036 231L1037.17 230.88L1037.96 230.77L1038.67 230.64L1039.6 230.46L1041.04 230.19L1043.3 229.8L1046.64 229.28L1050.88 228.66L1055.63 227.96L1060.52 227.18L1065.17 226.36L1069.2 225.5L1072.57 224.62L1075.57 223.69L1078.34 222.72L1080.98 221.69L1083.63 220.58L1086.4 219.4L1089.22 218.19L1091.97 216.97L1094.73 215.69L1097.56 214.27L1100.53 212.66L1103.7 210.8L1107.17 208.55L1110.89 205.93L1114.74 203.12L1118.63 200.3L1122.42 197.63L1126 195.3L1129.38 193.32L1132.65 191.57L1135.83 189.98L1138.94 188.47L1141.99 187L1145 185.5L1148.15 183.89L1151.44 182.2L1154.69 180.54L1157.67 179.01L1160.17 177.73L1162 176.8" stroke="#3a3a86" stroke-width="1.1" fill="none" stroke-linejoin="round"/>
<path d="M38 444.13L44.64 449.89L49.08 454.63L53.5 461.09L57.94 466.98L62.36 473.2L66.8 476.22L71.22 478.77L75.66 479.38L80.08 475.88L84.52 470.06L88.94 465.67L93.38 462.72L97.8 456.61L102.23 451.86L106.66 448.52L111.09 449.29L115.52 449.4L119.95 452.03L124.38 457.41L128.81 465.03L133.25 469.37L137.68 470.38L142.1 466.04L146.53 463.47L150.96 456.99L155.39 450.85L159.82 449.82L164.25 445L168.69 442.62L173.11 438.39L177.54 441.23L181.97 447.91L186.41 461.83L190.83 468.65L195.26 477.44L199.69 484.3L204.12 485.24L208.55 485.96L212.98 483.52L217.41 479.69L221.84 467.97L226.27 456.44L230.7 443.41L235.13 434.88L239.56 426.95L243.99 417.83L248.42 408.37L252.85 398.43L257.28 391.21L261.71 386.02L266.14 385.31L270.57 384.58L275 384.55L279.43 383.45L283.87 382.55L288.29 383.38L292.73 385.1L297.15 390.87L301.58 394.27L306.01 398.01L310.44 399.45L314.88 398.93L319.31 398.36L323.73 395.31L328.16 392.27L332.59 391.45L337.02 391.01L341.45 390.06L345.88 389.03L350.31 388.3L354.75 387.22L359.17 386.66L363.6 386.31L368.03 388.97L372.46 388.08L376.89 385.42L381.32 384.21L385.75 382.85L390.19 380.86L394.61 380.83L399.04 379.52L403.47 380.46L407.9 380.38L412.33 380.72L416.76 382.37L421.19 385.08L425.62 389.09L430.05 393.06L434.48 397.32L438.91 397.09L443.34 397.38L447.77 392.68L452.2 386.58L456.63 380.69L461.06 375.91L465.49 368.93L469.92 359.19L474.35 350.62L478.78 344.15L483.21 338.62L487.64 333.9L492.07 333.37L496.5 330.85L500.93 329.77L505.36 330.29L509.79 330.9L514.22 332.08L518.65 331.09L523.09 329.73L527.51 329.64L531.94 328.52L536.38 325.06L540.8 327.25L545.23 327.8L549.66 327.97L554.09 330.33L558.52 331.8L562.95 332.95L567.38 335.52L571.81 337.56L576.25 339.36L580.67 344.19L585.11 347.92L589.53 349.35L593.96 349.79L598.39 348.55L602.82 342.04L607.25 341.65L611.68 338.45L616.12 336.35L620.54 335.62L624.97 329.39L629.4 322.39L633.83 316.71L638.26 309.7L642.69 303.81L647.12 302.15L651.55 298.12L655.99 294.87L660.41 291.03L664.84 287.03L669.27 287.71L673.7 287.48L678.13 288.15L682.56 289.89L687 291.15L691.42 294.08L695.85 295.17L700.28 297.17L704.71 298.52L709.14 301.82L713.57 302.32L718 303.23L722.43 306.66L726.87 309.46L731.29 310.86L735.72 308.33L740.15 302.95L744.58 295.22L749.01 288.43L753.44 281.61L757.88 272.95L762.3 263.97L766.73 253.55L771.16 245.06L775.59 238.6L780.02 236.85L784.45 234.44L788.88 236L793.31 236.97L797.75 237.25L802.17 238.95L806.6 243.08L811.03 246.12L815.46 246.21L819.89 243.34L824.32 239.09L828.75 239.18L833.18 236.35L837.61 235.07L842.04 234.47L846.47 234.17L850.9 233.21L855.33 233.59L859.76 237.27L864.19 242.66L868.62 249.39L873.05 254.15L877.48 259.09L881.91 258.63L886.34 257.97L890.77 258.21L895.2 258.03L899.63 259.48L904.06 258.76L908.49 254.62L912.92 248.66L917.35 244.94L921.78 242.12L926.21 241.45L930.64 240.09L935.07 239.23L939.5 237.75L943.93 232.46L948.36 229.25L952.79 230.12L957.22 228.84L961.65 227.66L966.08 226.17L970.51 227.68L974.94 228.49L979.37 228.99L983.8 228.01L988.23 229.52L992.66 229.17L997.09 224.84L1001.52 223.1L1005.95 219.14L1010.38 214.47L1014.81 209.94L1019.24 205.76L1023.67 203.86L1028.11 202.34L1032.53 200.41L1036.96 200.08L1041.39 201.47L1045.82 202.83L1050.25 205.28L1054.68 206.1L1059.11 206.61L1063.54 207.83L1067.97 205.55L1072.4 204.74L1076.84 203.3L1081.26 200.47L1085.69 198.43L1090.12 193.95L1094.55 186.96L1098.98 180.11L1103.41 172.34L1107.85 162.98L1112.27 155.89L1116.7 146.45L1121.13 138.48L1125.56 129.68L1129.99 122.39L1134.42 118.19L1138.86 116.98L1143.28 117.5L1147.71 117.96L1152.14 118.13L1156.57 116.84L1162 115.54" stroke="#3c8a46" stroke-width="1.1" fill="none" stroke-linejoin="round"/>
<path d="M86.34 404.04L88.34 406.74L90.34 404.04" fill="#fff" stroke="#c4c4c4" stroke-width="0.6"/>
<rect x="80.84" y="396.54" width="15" height="7.5" rx="1" fill="#fff" stroke="#c9c9c9" stroke-width="0.7"/>
<text x="88.34" y="402.84" font-size="7.6" fill="#000" stroke="#000" stroke-width="0.22" text-anchor="middle" textLength="13.2" lengthAdjust="spacingAndGlyphs">7.67</text>
<path d="M68.62 447.11L70.62 449.81L72.62 447.11" fill="#fff" stroke="#c4c4c4" stroke-width="0.6"/>
<rect x="63.12" y="439.61" width="15" height="7.5" rx="1" fill="#fff" stroke="#c9c9c9" stroke-width="0.7"/>
<text x="70.62" y="445.91" font-size="7.6" fill="#000" stroke="#000" stroke-width="0.22" text-anchor="middle" textLength="13.2" lengthAdjust="spacingAndGlyphs">6.83</text>
<path d="M90.78 475.84L92.78 471.14L94.78 475.84" fill="#fff" stroke="#c4c4c4" stroke-width="0.6"/>
<rect x="85.28" y="475.84" width="15" height="7.5" rx="1" fill="#fff" stroke="#c9c9c9" stroke-width="0.7"/>
<text x="92.78" y="482.14" font-size="7.6" fill="#000" stroke="#000" stroke-width="0.22" text-anchor="middle" textLength="13.2" lengthAdjust="spacingAndGlyphs">6.48</text>
<path d="M117.36 455.91L119.36 458.61L121.36 455.91" fill="#fff" stroke="#c4c4c4" stroke-width="0.6"/>
<rect x="111.86" y="448.41" width="15" height="7.5" rx="1" fill="#fff" stroke="#c9c9c9" stroke-width="0.7"/>
<text x="119.36" y="454.71" font-size="7.6" fill="#000" stroke="#000" stroke-width="0.22" text-anchor="middle" textLength="13.2" lengthAdjust="spacingAndGlyphs">6.67</text>
<path d="M108.5 489.26L110.5 484.56L112.5 489.26" fill="#fff" stroke="#c4c4c4" stroke-width="0.6"/>
<rect x="103" y="489.26" width="15" height="7.5" rx="1" fill="#fff" stroke="#c9c9c9" stroke-width="0.7"/>
<text x="110.5" y="495.56" font-size="7.6" fill="#000" stroke="#000" stroke-width="0.22" text-anchor="middle" textLength="13.2" lengthAdjust="spacingAndGlyphs">6.25</text>
<path d="M126.22 502.57L128.22 497.87L130.22 502.57" fill="#fff" stroke="#c4c4c4" stroke-width="0.6"/>
<rect x="120.72" y="502.57" width="15" height="7.5" rx="1" fill="#fff" stroke="#c9c9c9" stroke-width="0.7"/>
<text x="128.22" y="508.87" font-size="7.6" fill="#000" stroke="#000" stroke-width="0.22" text-anchor="middle" textLength="13.2" lengthAdjust="spacingAndGlyphs">6.03</text>
<path d="M55.34 518.29L57.34 513.59L59.34 518.29" fill="#fff" stroke="#c4c4c4" stroke-width="0.6"/>
<rect x="49.84" y="518.29" width="15" height="7.5" rx="1" fill="#fff" stroke="#c9c9c9" stroke-width="0.7"/>
<text x="57.34" y="524.59" font-size="7.6" fill="#000" stroke="#000" stroke-width="0.22" text-anchor="middle" textLength="13.2" lengthAdjust="spacingAndGlyphs">5.78</text>
<path d="M152.79 380.14L154.79 382.84L156.79 380.14" fill="#fff" stroke="#c4c4c4" stroke-width="0.6"/>
<rect x="147.29" y="372.64" width="15" height="7.5" rx="1" fill="#fff" stroke="#c9c9c9" stroke-width="0.7"/>
<text x="154.79" y="378.94" font-size="7.6" fill="#000" stroke="#000" stroke-width="0.22" text-anchor="middle" textLength="13.2" lengthAdjust="spacingAndGlyphs">8.18</text>
<path d="M192.66 463.22L194.66 465.92L196.66 463.22" fill="#fff" stroke="#c4c4c4" stroke-width="0.6"/>
<rect x="187.16" y="455.72" width="15" height="7.5" rx="1" fill="#fff" stroke="#c9c9c9" stroke-width="0.7"/>
<text x="194.66" y="462.02" font-size="7.6" fill="#000" stroke="#000" stroke-width="0.22" text-anchor="middle" textLength="13.2" lengthAdjust="spacingAndGlyphs">6.54</text>
<path d="M183.81 557.55L185.81 552.85L187.81 557.55" fill="#fff" stroke="#c4c4c4" stroke-width="0.6"/>
<rect x="178.31" y="557.55" width="15" height="7.5" rx="1" fill="#fff" stroke="#c9c9c9" stroke-width="0.7"/>
<text x="185.81" y="563.85" font-size="7.6" fill="#000" stroke="#000" stroke-width="0.22" text-anchor="middle" textLength="13.2" lengthAdjust="spacingAndGlyphs">5.20</text>
<path d="M197.09 500.73L199.09 496.03L201.09 500.73" fill="#fff" stroke="#c4c4c4" stroke-width="0.6"/>
<rect x="191.59" y="500.73" width="15" height="7.5" rx="1" fill="#fff" stroke="#c9c9c9" stroke-width="0.7"/>
<text x="199.09" y="507.03" font-size="7.6" fill="#000" stroke="#000" stroke-width="0.22" text-anchor="middle" textLength="13.2" lengthAdjust="spacingAndGlyphs">6.06</text>
<path d="M219.25 381.05L221.25 383.75L223.25 381.05" fill="#fff" stroke="#c4c4c4" stroke-width="0.6"/>
<rect x="213.75" y="373.55" width="15" height="7.5" rx="1" fill="#fff" stroke="#c9c9c9" stroke-width="0.7"/>
<text x="221.25" y="379.85" font-size="7.6" fill="#000" stroke="#000" stroke-width="0.22" text-anchor="middle" textLength="13.2" lengthAdjust="spacingAndGlyphs">8.16</text>
<path d="M228.1 423.05L230.1 418.35L232.1 423.05" fill="#fff" stroke="#c4c4c4" stroke-width="0.6"/>
<rect x="222.6" y="423.05" width="15" height="7.5" rx="1" fill="#fff" stroke="#c9c9c9" stroke-width="0.7"/>
<text x="230.1" y="429.35" font-size="7.6" fill="#000" stroke="#000" stroke-width="0.22" text-anchor="middle" textLength="13.2" lengthAdjust="spacingAndGlyphs">7.47</text>
<path d="M250.25 340.98L252.25 343.68L254.25 340.98" fill="#fff" stroke="#c4c4c4" stroke-width="0.6"/>
<rect x="244.75" y="333.48" width="15" height="7.5" rx="1" fill="#fff" stroke="#c9c9c9" stroke-width="0.7"/>
<text x="252.25" y="339.78" font-size="7.6" fill="#000" stroke="#000" stroke-width="0.22" text-anchor="middle" textLength="13.2" lengthAdjust="spacingAndGlyphs">9.09</text>
<path d="M281.26 365.89L283.26 368.59L285.26 365.89" fill="#fff" stroke="#c4c4c4" stroke-width="0.6"/>
<rect x="275.76" y="358.39" width="15" height="7.5" rx="1" fill="#fff" stroke="#c9c9c9" stroke-width="0.7"/>
<text x="283.26" y="364.69" font-size="7.6" fill="#000" stroke="#000" stroke-width="0.22" text-anchor="middle" textLength="13.2" lengthAdjust="spacingAndGlyphs">8.50</text>
<path d="M276.83 421.57L278.83 416.87L280.83 421.57" fill="#fff" stroke="#c4c4c4" stroke-width="0.6"/>
<rect x="271.33" y="421.57" width="15" height="7.5" rx="1" fill="#fff" stroke="#c9c9c9" stroke-width="0.7"/>
<text x="278.83" y="427.87" font-size="7.6" fill="#000" stroke="#000" stroke-width="0.22" text-anchor="middle" textLength="13.2" lengthAdjust="spacingAndGlyphs">7.50</text>
<path d="M298.98 418.61L300.98 413.91L302.98 418.61" fill="#fff" stroke="#c4c4c4" stroke-width="0.6"/>
<rect x="293.48" y="418.61" width="15" height="7.5" rx="1" fill="#fff" stroke="#c9c9c9" stroke-width="0.7"/>
<text x="300.98" y="424.91" font-size="7.6" fill="#000" stroke="#000" stroke-width="0.22" text-anchor="middle" textLength="13.2" lengthAdjust="spacingAndGlyphs">7.56</text>
<path d="M343.28 411.31L345.28 406.61L347.28 411.31" fill="#fff" stroke="#c4c4c4" stroke-width="0.6"/>
<rect x="337.78" y="411.31" width="15" height="7.5" rx="1" fill="#fff" stroke="#c9c9c9" stroke-width="0.7"/>
<text x="345.28" y="417.61" font-size="7.6" fill="#000" stroke="#000" stroke-width="0.22" text-anchor="middle" textLength="13.2" lengthAdjust="spacingAndGlyphs">7.71</text>
<path d="M374.29 348.82L376.29 351.52L378.29 348.82" fill="#fff" stroke="#c4c4c4" stroke-width="0.6"/>
<rect x="368.79" y="341.32" width="15" height="7.5" rx="1" fill="#fff" stroke="#c9c9c9" stroke-width="0.7"/>
<text x="376.29" y="347.62" font-size="7.6" fill="#000" stroke="#000" stroke-width="0.22" text-anchor="middle" textLength="13.2" lengthAdjust="spacingAndGlyphs">8.90</text>
<path d="M387.58 359.4L389.58 362.1L391.58 359.4" fill="#fff" stroke="#c4c4c4" stroke-width="0.6"/>
<rect x="382.08" y="351.9" width="15" height="7.5" rx="1" fill="#fff" stroke="#c9c9c9" stroke-width="0.7"/>
<text x="389.58" y="358.2" font-size="7.6" fill="#000" stroke="#000" stroke-width="0.22" text-anchor="middle" textLength="13.2" lengthAdjust="spacingAndGlyphs">8.65</text>
<path d="M383.15 393.91L385.15 389.21L387.15 393.91" fill="#fff" stroke="#c4c4c4" stroke-width="0.6"/>
<rect x="377.65" y="393.91" width="15" height="7.5" rx="1" fill="#fff" stroke="#c9c9c9" stroke-width="0.7"/>
<text x="385.15" y="400.21" font-size="7.6" fill="#000" stroke="#000" stroke-width="0.22" text-anchor="middle" textLength="13.2" lengthAdjust="spacingAndGlyphs">8.08</text>
<path d="M400.87 370.29L402.87 372.99L404.87 370.29" fill="#fff" stroke="#c4c4c4" stroke-width="0.6"/>
<rect x="395.37" y="362.79" width="15" height="7.5" rx="1" fill="#fff" stroke="#c9c9c9" stroke-width="0.7"/>
<text x="402.87" y="369.09" font-size="7.6" fill="#000" stroke="#000" stroke-width="0.22" text-anchor="middle" textLength="13.2" lengthAdjust="spacingAndGlyphs">8.40</text>
<path d="M405.3 409.87L407.3 405.17L409.3 409.87" fill="#fff" stroke="#c4c4c4" stroke-width="0.6"/>
<rect x="399.8" y="409.87" width="15" height="7.5" rx="1" fill="#fff" stroke="#c9c9c9" stroke-width="0.7"/>
<text x="407.3" y="416.17" font-size="7.6" fill="#000" stroke="#000" stroke-width="0.22" text-anchor="middle" textLength="13.2" lengthAdjust="spacingAndGlyphs">7.74</text>
<path d="M423.02 435.18L425.02 430.48L427.02 435.18" fill="#fff" stroke="#c4c4c4" stroke-width="0.6"/>
<rect x="417.52" y="435.18" width="15" height="7.5" rx="1" fill="#fff" stroke="#c9c9c9" stroke-width="0.7"/>
<text x="425.02" y="441.48" font-size="7.6" fill="#000" stroke="#000" stroke-width="0.22" text-anchor="middle" textLength="13.2" lengthAdjust="spacingAndGlyphs">7.23</text>
<path d="M449.6 302.96L451.6 305.66L453.6 302.96" fill="#fff" stroke="#c4c4c4" stroke-width="0.6"/>
<rect x="442" y="295.46" width="19.2" height="7.5" rx="1" fill="#fff" stroke="#c9c9c9" stroke-width="0.7"/>
<text x="451.6" y="301.76" font-size="7.6" fill="#000" stroke="#000" stroke-width="0.22" text-anchor="middle" textLength="17.4" lengthAdjust="spacingAndGlyphs">10.07</text>
<path d="M493.9 295.3L495.9 298L497.9 295.3" fill="#fff" stroke="#c4c4c4" stroke-width="0.6"/>
<rect x="486.3" y="287.8" width="19.2" height="7.5" rx="1" fill="#fff" stroke="#c9c9c9" stroke-width="0.7"/>
<text x="495.9" y="294.1" font-size="7.6" fill="#000" stroke="#000" stroke-width="0.22" text-anchor="middle" textLength="17.4" lengthAdjust="spacingAndGlyphs">10.28</text>
<path d="M489.47 355.52L491.47 350.82L493.47 355.52" fill="#fff" stroke="#c4c4c4" stroke-width="0.6"/>
<rect x="483.97" y="355.52" width="15" height="7.5" rx="1" fill="#fff" stroke="#c9c9c9" stroke-width="0.7"/>
<text x="491.47" y="361.82" font-size="7.6" fill="#000" stroke="#000" stroke-width="0.22" text-anchor="middle" textLength="13.2" lengthAdjust="spacingAndGlyphs">8.96</text>
<path d="M560.35 326.95L562.35 329.65L564.35 326.95" fill="#fff" stroke="#c4c4c4" stroke-width="0.6"/>
<rect x="554.85" y="319.45" width="15" height="7.5" rx="1" fill="#fff" stroke="#c9c9c9" stroke-width="0.7"/>
<text x="562.35" y="325.75" font-size="7.6" fill="#000" stroke="#000" stroke-width="0.22" text-anchor="middle" textLength="13.2" lengthAdjust="spacingAndGlyphs">9.44</text>
<path d="M551.49 366.46L553.49 361.76L555.49 366.46" fill="#fff" stroke="#c4c4c4" stroke-width="0.6"/>
<rect x="545.99" y="366.46" width="15" height="7.5" rx="1" fill="#fff" stroke="#c9c9c9" stroke-width="0.7"/>
<text x="553.49" y="372.76" font-size="7.6" fill="#000" stroke="#000" stroke-width="0.22" text-anchor="middle" textLength="13.2" lengthAdjust="spacingAndGlyphs">8.70</text>
<path d="M582.5 380.37L584.5 375.67L586.5 380.37" fill="#fff" stroke="#c4c4c4" stroke-width="0.6"/>
<rect x="577" y="380.37" width="15" height="7.5" rx="1" fill="#fff" stroke="#c9c9c9" stroke-width="0.7"/>
<text x="584.5" y="386.67" font-size="7.6" fill="#000" stroke="#000" stroke-width="0.22" text-anchor="middle" textLength="13.2" lengthAdjust="spacingAndGlyphs">8.38</text>
<path d="M604.65 279.04L606.65 281.74L608.65 279.04" fill="#fff" stroke="#c4c4c4" stroke-width="0.6"/>
<rect x="597.05" y="271.54" width="19.2" height="7.5" rx="1" fill="#fff" stroke="#c9c9c9" stroke-width="0.7"/>
<text x="606.65" y="277.84" font-size="7.6" fill="#000" stroke="#000" stroke-width="0.22" text-anchor="middle" textLength="17.4" lengthAdjust="spacingAndGlyphs">10.74</text>
<path d="M617.94 357.6L619.94 352.9L621.94 357.6" fill="#fff" stroke="#c4c4c4" stroke-width="0.6"/>
<rect x="612.44" y="357.6" width="15" height="7.5" rx="1" fill="#fff" stroke="#c9c9c9" stroke-width="0.7"/>
<text x="619.94" y="363.9" font-size="7.6" fill="#000" stroke="#000" stroke-width="0.22" text-anchor="middle" textLength="13.2" lengthAdjust="spacingAndGlyphs">8.91</text>
<path d="M635.66 264.47L637.66 267.17L639.66 264.47" fill="#fff" stroke="#c4c4c4" stroke-width="0.6"/>
<rect x="628.06" y="256.97" width="19.2" height="7.5" rx="1" fill="#fff" stroke="#c9c9c9" stroke-width="0.7"/>
<text x="637.66" y="263.27" font-size="7.6" fill="#000" stroke="#000" stroke-width="0.22" text-anchor="middle" textLength="17.4" lengthAdjust="spacingAndGlyphs">11.17</text>
<path d="M679.96 276.97L681.96 279.67L683.96 276.97" fill="#fff" stroke="#c4c4c4" stroke-width="0.6"/>
<rect x="672.36" y="269.47" width="19.2" height="7.5" rx="1" fill="#fff" stroke="#c9c9c9" stroke-width="0.7"/>
<text x="681.96" y="275.77" font-size="7.6" fill="#000" stroke="#000" stroke-width="0.22" text-anchor="middle" textLength="17.4" lengthAdjust="spacingAndGlyphs">10.80</text>
<path d="M666.67 313.27L668.67 308.57L670.67 313.27" fill="#fff" stroke="#c4c4c4" stroke-width="0.6"/>
<rect x="659.07" y="313.27" width="19.2" height="7.5" rx="1" fill="#fff" stroke="#c9c9c9" stroke-width="0.7"/>
<text x="668.67" y="319.57" font-size="7.6" fill="#000" stroke="#000" stroke-width="0.22" text-anchor="middle" textLength="17.4" lengthAdjust="spacingAndGlyphs">10.04</text>
<path d="M724.26 339.31L726.26 334.61L728.26 339.31" fill="#fff" stroke="#c4c4c4" stroke-width="0.6"/>
<rect x="718.76" y="339.31" width="15" height="7.5" rx="1" fill="#fff" stroke="#c9c9c9" stroke-width="0.7"/>
<text x="726.26" y="345.61" font-size="7.6" fill="#000" stroke="#000" stroke-width="0.22" text-anchor="middle" textLength="13.2" lengthAdjust="spacingAndGlyphs">9.36</text>
<path d="M741.98 217.1L743.98 219.8L745.98 217.1" fill="#fff" stroke="#c4c4c4" stroke-width="0.6"/>
<rect x="734.38" y="209.6" width="19.2" height="7.5" rx="1" fill="#fff" stroke="#c9c9c9" stroke-width="0.7"/>
<text x="743.98" y="215.9" font-size="7.6" fill="#000" stroke="#000" stroke-width="0.22" text-anchor="middle" textLength="17.4" lengthAdjust="spacingAndGlyphs">12.69</text>
<path d="M764.13 209.57L766.13 212.27L768.13 209.57" fill="#fff" stroke="#c4c4c4" stroke-width="0.6"/>
<rect x="756.53" y="202.07" width="19.2" height="7.5" rx="1" fill="#fff" stroke="#c9c9c9" stroke-width="0.7"/>
<text x="766.13" y="208.37" font-size="7.6" fill="#000" stroke="#000" stroke-width="0.22" text-anchor="middle" textLength="17.4" lengthAdjust="spacingAndGlyphs">12.95</text>
<path d="M750.84 265.77L752.84 261.07L754.84 265.77" fill="#fff" stroke="#c4c4c4" stroke-width="0.6"/>
<rect x="743.24" y="265.77" width="19.2" height="7.5" rx="1" fill="#fff" stroke="#c9c9c9" stroke-width="0.7"/>
<text x="752.84" y="272.07" font-size="7.6" fill="#000" stroke="#000" stroke-width="0.22" text-anchor="middle" textLength="17.4" lengthAdjust="spacingAndGlyphs">11.41</text>
<path d="M795.14 269.04L797.14 264.34L799.14 269.04" fill="#fff" stroke="#c4c4c4" stroke-width="0.6"/>
<rect x="787.54" y="269.04" width="19.2" height="7.5" rx="1" fill="#fff" stroke="#c9c9c9" stroke-width="0.7"/>
<text x="797.14" y="275.34" font-size="7.6" fill="#000" stroke="#000" stroke-width="0.22" text-anchor="middle" textLength="17.4" lengthAdjust="spacingAndGlyphs">11.31</text>
<path d="M817.29 185.69L819.29 188.39L821.29 185.69" fill="#fff" stroke="#c4c4c4" stroke-width="0.6"/>
<rect x="809.69" y="178.19" width="19.2" height="7.5" rx="1" fill="#fff" stroke="#c9c9c9" stroke-width="0.7"/>
<text x="819.29" y="184.49" font-size="7.6" fill="#000" stroke="#000" stroke-width="0.22" text-anchor="middle" textLength="17.4" lengthAdjust="spacingAndGlyphs">13.81</text>
<path d="M874.88 293.11L876.88 288.41L878.88 293.11" fill="#fff" stroke="#c4c4c4" stroke-width="0.6"/>
<rect x="867.28" y="293.11" width="19.2" height="7.5" rx="1" fill="#fff" stroke="#c9c9c9" stroke-width="0.7"/>
<text x="876.88" y="299.41" font-size="7.6" fill="#000" stroke="#000" stroke-width="0.22" text-anchor="middle" textLength="17.4" lengthAdjust="spacingAndGlyphs">10.60</text>
<path d="M883.74 215.05L885.74 217.75L887.74 215.05" fill="#fff" stroke="#c4c4c4" stroke-width="0.6"/>
<rect x="876.14" y="207.55" width="19.2" height="7.5" rx="1" fill="#fff" stroke="#c9c9c9" stroke-width="0.7"/>
<text x="885.74" y="213.85" font-size="7.6" fill="#000" stroke="#000" stroke-width="0.22" text-anchor="middle" textLength="17.4" lengthAdjust="spacingAndGlyphs">12.76</text>
<path d="M897.03 286.52L899.03 281.82L901.03 286.52" fill="#fff" stroke="#c4c4c4" stroke-width="0.6"/>
<rect x="889.43" y="286.52" width="19.2" height="7.5" rx="1" fill="#fff" stroke="#c9c9c9" stroke-width="0.7"/>
<text x="899.03" y="292.82" font-size="7.6" fill="#000" stroke="#000" stroke-width="0.22" text-anchor="middle" textLength="17.4" lengthAdjust="spacingAndGlyphs">10.79</text>
<path d="M905.89 205.01L907.89 207.71L909.89 205.01" fill="#fff" stroke="#c4c4c4" stroke-width="0.6"/>
<rect x="898.29" y="197.51" width="19.2" height="7.5" rx="1" fill="#fff" stroke="#c9c9c9" stroke-width="0.7"/>
<text x="907.89" y="203.81" font-size="7.6" fill="#000" stroke="#000" stroke-width="0.22" text-anchor="middle" textLength="17.4" lengthAdjust="spacingAndGlyphs">13.11</text>
<path d="M919.18 255.82L921.18 251.12L923.18 255.82" fill="#fff" stroke="#c4c4c4" stroke-width="0.6"/>
<rect x="911.58" y="255.82" width="19.2" height="7.5" rx="1" fill="#fff" stroke="#c9c9c9" stroke-width="0.7"/>
<text x="921.18" y="262.12" font-size="7.6" fill="#000" stroke="#000" stroke-width="0.22" text-anchor="middle" textLength="17.4" lengthAdjust="spacingAndGlyphs">11.72</text>
<path d="M928.04 214.76L930.04 217.46L932.04 214.76" fill="#fff" stroke="#c4c4c4" stroke-width="0.6"/>
<rect x="920.44" y="207.26" width="19.2" height="7.5" rx="1" fill="#fff" stroke="#c9c9c9" stroke-width="0.7"/>
<text x="930.04" y="213.56" font-size="7.6" fill="#000" stroke="#000" stroke-width="0.22" text-anchor="middle" textLength="17.4" lengthAdjust="spacingAndGlyphs">12.77</text>
<path d="M945.76 194.67L947.76 197.37L949.76 194.67" fill="#fff" stroke="#c4c4c4" stroke-width="0.6"/>
<rect x="938.16" y="187.17" width="19.2" height="7.5" rx="1" fill="#fff" stroke="#c9c9c9" stroke-width="0.7"/>
<text x="947.76" y="193.47" font-size="7.6" fill="#000" stroke="#000" stroke-width="0.22" text-anchor="middle" textLength="17.4" lengthAdjust="spacingAndGlyphs">13.48</text>
<path d="M950.19 242.75L952.19 238.05L954.19 242.75" fill="#fff" stroke="#c4c4c4" stroke-width="0.6"/>
<rect x="942.59" y="242.75" width="19.2" height="7.5" rx="1" fill="#fff" stroke="#c9c9c9" stroke-width="0.7"/>
<text x="952.19" y="249.05" font-size="7.6" fill="#000" stroke="#000" stroke-width="0.22" text-anchor="middle" textLength="17.4" lengthAdjust="spacingAndGlyphs">12.14</text>
<path d="M967.91 254.24L969.91 249.54L971.91 254.24" fill="#fff" stroke="#c4c4c4" stroke-width="0.6"/>
<rect x="960.31" y="254.24" width="19.2" height="7.5" rx="1" fill="#fff" stroke="#c9c9c9" stroke-width="0.7"/>
<text x="969.91" y="260.54" font-size="7.6" fill="#000" stroke="#000" stroke-width="0.22" text-anchor="middle" textLength="17.4" lengthAdjust="spacingAndGlyphs">11.77</text>
<path d="M981.2 204.72L983.2 207.42L985.2 204.72" fill="#fff" stroke="#c4c4c4" stroke-width="0.6"/>
<rect x="973.6" y="197.22" width="19.2" height="7.5" rx="1" fill="#fff" stroke="#c9c9c9" stroke-width="0.7"/>
<text x="983.2" y="203.52" font-size="7.6" fill="#000" stroke="#000" stroke-width="0.22" text-anchor="middle" textLength="17.4" lengthAdjust="spacingAndGlyphs">13.12</text>
<path d="M1007.78 173.53L1009.78 176.23L1011.78 173.53" fill="#fff" stroke="#c4c4c4" stroke-width="0.6"/>
<rect x="1000.18" y="166.03" width="19.2" height="7.5" rx="1" fill="#fff" stroke="#c9c9c9" stroke-width="0.7"/>
<text x="1009.78" y="172.33" font-size="7.6" fill="#000" stroke="#000" stroke-width="0.22" text-anchor="middle" textLength="17.4" lengthAdjust="spacingAndGlyphs">14.27</text>
<path d="M1034.37 230.71L1036.37 226.01L1038.37 230.71" fill="#fff" stroke="#c4c4c4" stroke-width="0.6"/>
<rect x="1026.77" y="230.71" width="19.2" height="7.5" rx="1" fill="#fff" stroke="#c9c9c9" stroke-width="0.7"/>
<text x="1036.37" y="237.01" font-size="7.6" fill="#000" stroke="#000" stroke-width="0.22" text-anchor="middle" textLength="17.4" lengthAdjust="spacingAndGlyphs">12.54</text>
<path d="M1114.11 82.39L1116.11 85.09L1118.11 82.39" fill="#fff" stroke="#c4c4c4" stroke-width="0.6"/>
<rect x="1106.51" y="74.89" width="19.2" height="7.5" rx="1" fill="#fff" stroke="#c9c9c9" stroke-width="0.7"/>
<text x="1116.11" y="81.19" font-size="7.6" fill="#000" stroke="#000" stroke-width="0.22" text-anchor="middle" textLength="17.4" lengthAdjust="spacingAndGlyphs">18.24</text>
<path d="M1145.12 145.14L1147.12 140.44L1149.12 145.14" fill="#fff" stroke="#c4c4c4" stroke-width="0.6"/>
<rect x="1137.52" y="145.14" width="19.2" height="7.5" rx="1" fill="#fff" stroke="#c9c9c9" stroke-width="0.7"/>
<text x="1147.12" y="151.44" font-size="7.6" fill="#000" stroke="#000" stroke-width="0.22" text-anchor="middle" textLength="17.4" lengthAdjust="spacingAndGlyphs">15.79</text>
<path d="M1164.8 531.03H1167.8" stroke="#999" stroke-width="0.8"/>
<text x="1184.3" y="533.83" font-size="7.7" fill="#222" stroke="#222" stroke-width="0.22" text-anchor="end" textLength="11.2" lengthAdjust="spacingAndGlyphs">5.5</text>
<path d="M1164.8 498.72H1167.8" stroke="#999" stroke-width="0.8"/>
<text x="1184.3" y="501.52" font-size="7.7" fill="#222" stroke="#222" stroke-width="0.22" text-anchor="end" textLength="11.2" lengthAdjust="spacingAndGlyphs">6.0</text>
<path d="M1164.8 469H1167.8" stroke="#999" stroke-width="0.8"/>
<text x="1184.3" y="471.8" font-size="7.7" fill="#222" stroke="#222" stroke-width="0.22" text-anchor="end" textLength="11.2" lengthAdjust="spacingAndGlyphs">6.5</text>
<path d="M1164.8 441.48H1167.8" stroke="#999" stroke-width="0.8"/>
<text x="1184.3" y="444.28" font-size="7.7" fill="#222" stroke="#222" stroke-width="0.22" text-anchor="end" textLength="11.2" lengthAdjust="spacingAndGlyphs">7.0</text>
<path d="M1164.8 415.87H1167.8" stroke="#999" stroke-width="0.8"/>
<text x="1184.3" y="418.67" font-size="7.7" fill="#222" stroke="#222" stroke-width="0.22" text-anchor="end" textLength="11.2" lengthAdjust="spacingAndGlyphs">7.5</text>
<path d="M1164.8 391.9H1167.8" stroke="#999" stroke-width="0.8"/>
<text x="1184.3" y="394.7" font-size="7.7" fill="#222" stroke="#222" stroke-width="0.22" text-anchor="end" textLength="11.2" lengthAdjust="spacingAndGlyphs">8.0</text>
<path d="M1164.8 369.39H1167.8" stroke="#999" stroke-width="0.8"/>
<text x="1184.3" y="372.19" font-size="7.7" fill="#222" stroke="#222" stroke-width="0.22" text-anchor="end" textLength="11.2" lengthAdjust="spacingAndGlyphs">8.5</text>
<path d="M1164.8 348.17H1167.8" stroke="#999" stroke-width="0.8"/>
<text x="1184.3" y="350.97" font-size="7.7" fill="#222" stroke="#222" stroke-width="0.22" text-anchor="end" textLength="11.2" lengthAdjust="spacingAndGlyphs">9.0</text>
<path d="M1164.8 328.1H1167.8" stroke="#999" stroke-width="0.8"/>
<text x="1184.3" y="330.9" font-size="7.7" fill="#222" stroke="#222" stroke-width="0.22" text-anchor="end" textLength="11.2" lengthAdjust="spacingAndGlyphs">9.5</text>
<path d="M1164.8 309.05H1167.8" stroke="#999" stroke-width="0.8"/>
<text x="1184.3" y="311.85" font-size="7.7" fill="#222" stroke="#222" stroke-width="0.22" text-anchor="end" textLength="14.8" lengthAdjust="spacingAndGlyphs">10.0</text>
<path d="M1164.8 290.93H1167.8" stroke="#999" stroke-width="0.8"/>
<text x="1184.3" y="293.73" font-size="7.7" fill="#222" stroke="#222" stroke-width="0.22" text-anchor="end" textLength="14.8" lengthAdjust="spacingAndGlyphs">10.5</text>
<path d="M1164.8 273.66H1167.8" stroke="#999" stroke-width="0.8"/>
<text x="1184.3" y="276.46" font-size="7.7" fill="#222" stroke="#222" stroke-width="0.22" text-anchor="end" textLength="14.8" lengthAdjust="spacingAndGlyphs">11.0</text>
<path d="M1164.8 257.16H1167.8" stroke="#999" stroke-width="0.8"/>
<text x="1184.3" y="259.96" font-size="7.7" fill="#222" stroke="#222" stroke-width="0.22" text-anchor="end" textLength="14.8" lengthAdjust="spacingAndGlyphs">11.5</text>
<path d="M1164.8 241.35H1167.8" stroke="#999" stroke-width="0.8"/>
<text x="1184.3" y="244.15" font-size="7.7" fill="#222" stroke="#222" stroke-width="0.22" text-anchor="end" textLength="14.8" lengthAdjust="spacingAndGlyphs">12.0</text>
<path d="M1164.8 226.2H1167.8" stroke="#999" stroke-width="0.8"/>
<text x="1184.3" y="229" font-size="7.7" fill="#222" stroke="#222" stroke-width="0.22" text-anchor="end" textLength="14.8" lengthAdjust="spacingAndGlyphs">12.5</text>
<path d="M1164.8 211.63H1167.8" stroke="#999" stroke-width="0.8"/>
<text x="1184.3" y="214.43" font-size="7.7" fill="#222" stroke="#222" stroke-width="0.22" text-anchor="end" textLength="14.8" lengthAdjust="spacingAndGlyphs">13.0</text>
<path d="M1164.8 197.62H1167.8" stroke="#999" stroke-width="0.8"/>
<text x="1184.3" y="200.42" font-size="7.7" fill="#222" stroke="#222" stroke-width="0.22" text-anchor="end" textLength="14.8" lengthAdjust="spacingAndGlyphs">13.5</text>
<path d="M1164.8 184.12H1167.8" stroke="#999" stroke-width="0.8"/>
<text x="1184.3" y="186.92" font-size="7.7" fill="#222" stroke="#222" stroke-width="0.22" text-anchor="end" textLength="14.8" lengthAdjust="spacingAndGlyphs">14.0</text>
<path d="M1164.8 171.09H1167.8" stroke="#999" stroke-width="0.8"/>
<text x="1184.3" y="173.89" font-size="7.7" fill="#222" stroke="#222" stroke-width="0.22" text-anchor="end" textLength="14.8" lengthAdjust="spacingAndGlyphs">14.5</text>
<path d="M1164.8 158.5H1167.8" stroke="#999" stroke-width="0.8"/>
<text x="1184.3" y="161.3" font-size="7.7" fill="#222" stroke="#222" stroke-width="0.22" text-anchor="end" textLength="14.8" lengthAdjust="spacingAndGlyphs">15.0</text>
<path d="M1164.8 146.33H1167.8" stroke="#999" stroke-width="0.8"/>
<text x="1184.3" y="149.13" font-size="7.7" fill="#222" stroke="#222" stroke-width="0.22" text-anchor="end" textLength="14.8" lengthAdjust="spacingAndGlyphs">15.5</text>
<path d="M1164.8 134.54H1167.8" stroke="#999" stroke-width="0.8"/>
<text x="1184.3" y="137.34" font-size="7.7" fill="#222" stroke="#222" stroke-width="0.22" text-anchor="end" textLength="14.8" lengthAdjust="spacingAndGlyphs">16.0</text>
<path d="M1164.8 123.11H1167.8" stroke="#999" stroke-width="0.8"/>
<text x="1184.3" y="125.91" font-size="7.7" fill="#222" stroke="#222" stroke-width="0.22" text-anchor="end" textLength="14.8" lengthAdjust="spacingAndGlyphs">16.5</text>
<path d="M1164.8 112.03H1167.8" stroke="#999" stroke-width="0.8"/>
<text x="1184.3" y="114.83" font-size="7.7" fill="#222" stroke="#222" stroke-width="0.22" text-anchor="end" textLength="14.8" lengthAdjust="spacingAndGlyphs">17.0</text>
<path d="M1164.8 101.26H1167.8" stroke="#999" stroke-width="0.8"/>
<text x="1184.3" y="104.06" font-size="7.7" fill="#222" stroke="#222" stroke-width="0.22" text-anchor="end" textLength="14.8" lengthAdjust="spacingAndGlyphs">17.5</text>
<path d="M1164.8 90.8H1167.8" stroke="#999" stroke-width="0.8"/>
<text x="1184.3" y="93.6" font-size="7.7" fill="#222" stroke="#222" stroke-width="0.22" text-anchor="end" textLength="14.8" lengthAdjust="spacingAndGlyphs">18.0</text>
<path d="M1164.8 80.63H1167.8" stroke="#999" stroke-width="0.8"/>
<text x="1184.3" y="83.43" font-size="7.7" fill="#222" stroke="#222" stroke-width="0.22" text-anchor="end" textLength="14.8" lengthAdjust="spacingAndGlyphs">18.5</text>
<path d="M1164.5 176.77L1168.5 172.77H1189.7V180.77H1168.5Z" fill="#fff" stroke="#3a3a86" stroke-width="1.1"/>
<text x="1169.3" y="179.57" font-size="7.7" fill="#000" stroke="#000" stroke-width="0.22" textLength="19.2" lengthAdjust="spacingAndGlyphs">14.28</text>
<path d="M1164.5 270.97L1168.5 266.97H1189.7V274.97H1168.5Z" fill="#fff" stroke="#b0566e" stroke-width="1.1"/>
<text x="1169.3" y="273.77" font-size="7.7" fill="#000" stroke="#000" stroke-width="0.22" textLength="19.2" lengthAdjust="spacingAndGlyphs">11.08</text>
<path d="M1164.5 115.54L1168.5 111.54H1189.7V119.54H1168.5Z" fill="#fff" stroke="#4f8a55" stroke-width="1.1"/>
<text x="1169.3" y="118.34" font-size="7.7" fill="#000" stroke="#000" stroke-width="0.22" textLength="19.2" lengthAdjust="spacingAndGlyphs">16.84</text>
<path d="M1164.5 99.99L1168.5 95.99H1189.7V103.99H1168.5Z" fill="#fff" stroke="#000" stroke-width="1.3"/>
<text x="1169.3" y="102.79" font-size="7.7" fill="#000" stroke="#000" stroke-width="0.22" textLength="19.2" lengthAdjust="spacingAndGlyphs">17.56</text>
<path d="M1164.5 534.3L1168.5 530.3H1196.7V538.3H1168.5Z" fill="#fff" stroke="#111" stroke-width="1.25"/>
<text x="1169.3" y="537.1" font-size="7.7" fill="#000" stroke="#000" stroke-width="0.22" textLength="26.2" lengthAdjust="spacingAndGlyphs">118796</text>
<text x="36.3" y="555.4" font-size="7.6" fill="#222" stroke="#222" stroke-width="0.22" text-anchor="end" textLength="20.2" lengthAdjust="spacingAndGlyphs">50000</text>
<text x="36.3" y="541.94" font-size="7.6" fill="#222" stroke="#222" stroke-width="0.22" text-anchor="end" textLength="20.2" lengthAdjust="spacingAndGlyphs">100K</text>
<text x="36.3" y="528.48" font-size="7.6" fill="#222" stroke="#222" stroke-width="0.22" text-anchor="end" textLength="20.2" lengthAdjust="spacingAndGlyphs">150K</text>
<text x="36.3" y="515.02" font-size="7.6" fill="#222" stroke="#222" stroke-width="0.22" text-anchor="end" textLength="20.2" lengthAdjust="spacingAndGlyphs">200K</text>
<text x="36.3" y="501.56" font-size="7.6" fill="#222" stroke="#222" stroke-width="0.22" text-anchor="end" textLength="20.2" lengthAdjust="spacingAndGlyphs">250K</text>
<text x="36.3" y="488.1" font-size="7.6" fill="#222" stroke="#222" stroke-width="0.22" text-anchor="end" textLength="20.2" lengthAdjust="spacingAndGlyphs">300K</text>
<text x="36.3" y="474.64" font-size="7.6" fill="#222" stroke="#222" stroke-width="0.22" text-anchor="end" textLength="20.2" lengthAdjust="spacingAndGlyphs">350K</text>
<text x="36.3" y="461.18" font-size="7.6" fill="#222" stroke="#222" stroke-width="0.22" text-anchor="end" textLength="20.2" lengthAdjust="spacingAndGlyphs">400K</text>
<text x="36.3" y="447.72" font-size="7.6" fill="#222" stroke="#222" stroke-width="0.22" text-anchor="end" textLength="20.2" lengthAdjust="spacingAndGlyphs">450K</text>
<text x="36.3" y="434.26" font-size="7.6" fill="#222" stroke="#222" stroke-width="0.22" text-anchor="end" textLength="20.2" lengthAdjust="spacingAndGlyphs">500K</text>
<text x="36.3" y="420.8" font-size="7.6" fill="#222" stroke="#222" stroke-width="0.22" text-anchor="end" textLength="20.2" lengthAdjust="spacingAndGlyphs">550K</text>
<text x="53.4" y="575.2" font-size="8.2" fill="#000" stroke="#000" stroke-width="0.38" font-weight="bold" text-anchor="middle" textLength="15" lengthAdjust="spacingAndGlyphs">Apr</text>
<text x="66.09" y="575.2" font-size="7.8" fill="#000" stroke="#000" stroke-width="0.22" text-anchor="middle" textLength="3.8" lengthAdjust="spacingAndGlyphs">6</text>
<text x="83.81" y="575.2" font-size="7.8" fill="#000" stroke="#000" stroke-width="0.22" text-anchor="middle" textLength="7.6" lengthAdjust="spacingAndGlyphs">13</text>
<text x="105.96" y="575.2" font-size="7.8" fill="#000" stroke="#000" stroke-width="0.22" text-anchor="middle" textLength="7.6" lengthAdjust="spacingAndGlyphs">20</text>
<text x="128.12" y="575.2" font-size="7.8" fill="#000" stroke="#000" stroke-width="0.22" text-anchor="middle" textLength="7.6" lengthAdjust="spacingAndGlyphs">27</text>
<text x="146.44" y="575.2" font-size="8.2" fill="#000" stroke="#000" stroke-width="0.38" font-weight="bold" text-anchor="middle" textLength="17" lengthAdjust="spacingAndGlyphs">May</text>
<text x="172.41" y="575.2" font-size="7.8" fill="#000" stroke="#000" stroke-width="0.22" text-anchor="middle" textLength="7.6" lengthAdjust="spacingAndGlyphs">11</text>
<text x="194.56" y="575.2" font-size="7.8" fill="#000" stroke="#000" stroke-width="0.22" text-anchor="middle" textLength="7.6" lengthAdjust="spacingAndGlyphs">18</text>
<text x="216.72" y="575.2" font-size="7.8" fill="#000" stroke="#000" stroke-width="0.22" text-anchor="middle" textLength="7.6" lengthAdjust="spacingAndGlyphs">26</text>
<text x="235.03" y="575.2" font-size="8.2" fill="#000" stroke="#000" stroke-width="0.38" font-weight="bold" text-anchor="middle" textLength="14.5" lengthAdjust="spacingAndGlyphs">Jun</text>
<text x="256.58" y="575.2" font-size="7.8" fill="#000" stroke="#000" stroke-width="0.22" text-anchor="middle" textLength="3.8" lengthAdjust="spacingAndGlyphs">8</text>
<text x="278.73" y="575.2" font-size="7.8" fill="#000" stroke="#000" stroke-width="0.22" text-anchor="middle" textLength="7.6" lengthAdjust="spacingAndGlyphs">15</text>
<text x="300.88" y="575.2" font-size="7.8" fill="#000" stroke="#000" stroke-width="0.22" text-anchor="middle" textLength="7.6" lengthAdjust="spacingAndGlyphs">22</text>
<text x="332.5" y="575.2" font-size="8.2" fill="#000" stroke="#000" stroke-width="0.38" font-weight="bold" text-anchor="middle" textLength="11.7" lengthAdjust="spacingAndGlyphs">Jul</text>
<text x="340.75" y="575.2" font-size="7.8" fill="#000" stroke="#000" stroke-width="0.22" text-anchor="middle" textLength="3.8" lengthAdjust="spacingAndGlyphs">6</text>
<text x="362.9" y="575.2" font-size="7.8" fill="#000" stroke="#000" stroke-width="0.22" text-anchor="middle" textLength="7.6" lengthAdjust="spacingAndGlyphs">13</text>
<text x="385.06" y="575.2" font-size="7.8" fill="#000" stroke="#000" stroke-width="0.22" text-anchor="middle" textLength="7.6" lengthAdjust="spacingAndGlyphs">20</text>
<text x="407.2" y="575.2" font-size="7.8" fill="#000" stroke="#000" stroke-width="0.22" text-anchor="middle" textLength="7.6" lengthAdjust="spacingAndGlyphs">27</text>
<text x="429.95" y="575.2" font-size="8.2" fill="#000" stroke="#000" stroke-width="0.38" font-weight="bold" text-anchor="middle" textLength="15.7" lengthAdjust="spacingAndGlyphs">Aug</text>
<text x="451.5" y="575.2" font-size="7.8" fill="#000" stroke="#000" stroke-width="0.22" text-anchor="middle" textLength="7.6" lengthAdjust="spacingAndGlyphs">10</text>
<text x="473.65" y="575.2" font-size="7.8" fill="#000" stroke="#000" stroke-width="0.22" text-anchor="middle" textLength="7.6" lengthAdjust="spacingAndGlyphs">17</text>
<text x="495.81" y="575.2" font-size="7.8" fill="#000" stroke="#000" stroke-width="0.22" text-anchor="middle" textLength="7.6" lengthAdjust="spacingAndGlyphs">24</text>
<text x="522.99" y="575.2" font-size="8.2" fill="#000" stroke="#000" stroke-width="0.38" font-weight="bold" text-anchor="middle" textLength="15.6" lengthAdjust="spacingAndGlyphs">Sep</text>
<text x="540.1" y="575.2" font-size="7.8" fill="#000" stroke="#000" stroke-width="0.22" text-anchor="middle" textLength="3.8" lengthAdjust="spacingAndGlyphs">8</text>
<text x="557.82" y="575.2" font-size="7.8" fill="#000" stroke="#000" stroke-width="0.22" text-anchor="middle" textLength="7.6" lengthAdjust="spacingAndGlyphs">14</text>
<text x="579.97" y="575.2" font-size="7.8" fill="#000" stroke="#000" stroke-width="0.22" text-anchor="middle" textLength="7.6" lengthAdjust="spacingAndGlyphs">21</text>
<text x="602.12" y="575.2" font-size="7.8" fill="#000" stroke="#000" stroke-width="0.22" text-anchor="middle" textLength="7.6" lengthAdjust="spacingAndGlyphs">28</text>
<text x="616.01" y="575.2" font-size="8.2" fill="#000" stroke="#000" stroke-width="0.38" font-weight="bold" text-anchor="middle" textLength="13.6" lengthAdjust="spacingAndGlyphs">Oct</text>
<text x="646.42" y="575.2" font-size="7.8" fill="#000" stroke="#000" stroke-width="0.22" text-anchor="middle" textLength="7.6" lengthAdjust="spacingAndGlyphs">12</text>
<text x="668.57" y="575.2" font-size="7.8" fill="#000" stroke="#000" stroke-width="0.22" text-anchor="middle" textLength="7.6" lengthAdjust="spacingAndGlyphs">19</text>
<text x="690.72" y="575.2" font-size="7.8" fill="#000" stroke="#000" stroke-width="0.22" text-anchor="middle" textLength="7.6" lengthAdjust="spacingAndGlyphs">26</text>
<text x="713.47" y="575.2" font-size="8.2" fill="#000" stroke="#000" stroke-width="0.38" font-weight="bold" text-anchor="middle" textLength="15" lengthAdjust="spacingAndGlyphs">Nov</text>
<text x="735.02" y="575.2" font-size="7.8" fill="#000" stroke="#000" stroke-width="0.22" text-anchor="middle" textLength="3.8" lengthAdjust="spacingAndGlyphs">9</text>
<text x="757.17" y="575.2" font-size="7.8" fill="#000" stroke="#000" stroke-width="0.22" text-anchor="middle" textLength="7.6" lengthAdjust="spacingAndGlyphs">16</text>
<text x="779.32" y="575.2" font-size="7.8" fill="#000" stroke="#000" stroke-width="0.22" text-anchor="middle" textLength="7.6" lengthAdjust="spacingAndGlyphs">23</text>
<text x="802.07" y="575.2" font-size="8.2" fill="#000" stroke="#000" stroke-width="0.38" font-weight="bold" text-anchor="middle" textLength="15" lengthAdjust="spacingAndGlyphs">Dec</text>
<text x="819.19" y="575.2" font-size="7.8" fill="#000" stroke="#000" stroke-width="0.22" text-anchor="middle" textLength="3.8" lengthAdjust="spacingAndGlyphs">7</text>
<text x="841.34" y="575.2" font-size="7.8" fill="#000" stroke="#000" stroke-width="0.22" text-anchor="middle" textLength="7.6" lengthAdjust="spacingAndGlyphs">14</text>
<text x="863.49" y="575.2" font-size="7.8" fill="#000" stroke="#000" stroke-width="0.22" text-anchor="middle" textLength="7.6" lengthAdjust="spacingAndGlyphs">21</text>
<text x="881.21" y="575.2" font-size="7.8" fill="#000" stroke="#000" stroke-width="0.22" text-anchor="middle" textLength="7.6" lengthAdjust="spacingAndGlyphs">28</text>
<text x="899.53" y="575.2" font-size="8.2" fill="#000" stroke="#000" stroke-width="0.38" font-weight="bold" text-anchor="middle" textLength="17.6" lengthAdjust="spacingAndGlyphs">2021</text>
<text x="921.08" y="575.2" font-size="7.8" fill="#000" stroke="#000" stroke-width="0.22" text-anchor="middle" textLength="7.6" lengthAdjust="spacingAndGlyphs">11</text>
<text x="943.23" y="575.2" font-size="7.8" fill="#000" stroke="#000" stroke-width="0.22" text-anchor="middle" textLength="7.6" lengthAdjust="spacingAndGlyphs">19</text>
<text x="960.95" y="575.2" font-size="7.8" fill="#000" stroke="#000" stroke-width="0.22" text-anchor="middle" textLength="7.6" lengthAdjust="spacingAndGlyphs">25</text>
<text x="983.7" y="575.2" font-size="8.2" fill="#000" stroke="#000" stroke-width="0.38" font-weight="bold" text-anchor="middle" textLength="15" lengthAdjust="spacingAndGlyphs">Feb</text>
<text x="1005.25" y="575.2" font-size="7.8" fill="#000" stroke="#000" stroke-width="0.22" text-anchor="middle" textLength="3.8" lengthAdjust="spacingAndGlyphs">8</text>
<text x="1027.4" y="575.2" font-size="7.8" fill="#000" stroke="#000" stroke-width="0.22" text-anchor="middle" textLength="7.6" lengthAdjust="spacingAndGlyphs">16</text>
<text x="1045.12" y="575.2" font-size="7.8" fill="#000" stroke="#000" stroke-width="0.22" text-anchor="middle" textLength="7.6" lengthAdjust="spacingAndGlyphs">22</text>
<text x="1067.87" y="575.2" font-size="8.2" fill="#000" stroke="#000" stroke-width="0.38" font-weight="bold" text-anchor="middle" textLength="15.7" lengthAdjust="spacingAndGlyphs">Mar</text>
<text x="1089.42" y="575.2" font-size="7.8" fill="#000" stroke="#000" stroke-width="0.22" text-anchor="middle" textLength="3.8" lengthAdjust="spacingAndGlyphs">8</text>
<text x="1111.57" y="575.2" font-size="7.8" fill="#000" stroke="#000" stroke-width="0.22" text-anchor="middle" textLength="7.6" lengthAdjust="spacingAndGlyphs">15</text>
<text x="1133.72" y="575.2" font-size="7.8" fill="#000" stroke="#000" stroke-width="0.22" text-anchor="middle" textLength="7.6" lengthAdjust="spacingAndGlyphs">22</text>
<text x="1155.87" y="575.2" font-size="7.8" fill="#000" stroke="#000" stroke-width="0.22" text-anchor="middle" textLength="7.6" lengthAdjust="spacingAndGlyphs">29</text>
<path d="M41.4 73.8v5.8M45.3 73.6v6" stroke="#000" stroke-width="0.8"/><path d="M40.3 74.6h2.2v3.8h-2.2zM44.2 75.2h2.2v3.8h-2.2z" fill="#000"/><path d="M42.5 77.2l1.7-1" stroke="#000" stroke-width="0.8"/>
<text x="49.6" y="80" font-size="7.9" fill="#222" stroke="#222" stroke-width="0.3" textLength="75" lengthAdjust="spacingAndGlyphs" font-family="Liberation Mono">GPX (Daily) 17.56</text>
<path d="M40.2 85.6H47" stroke="#1c1c66" stroke-width="1.25"/>
<text x="47.7" y="88.1" font-size="7.6" fill="#1c1c66" stroke="#1c1c66" stroke-width="0.22" textLength="45.5" lengthAdjust="spacingAndGlyphs">MA(50) 14.28</text>
<path d="M40.2 93.5H47" stroke="#9c2c54" stroke-width="1.25"/>
<text x="47.7" y="96" font-size="7.6" fill="#9c2c54" stroke="#9c2c54" stroke-width="0.22" textLength="49.6" lengthAdjust="spacingAndGlyphs">MA(200) 11.08</text>
<path d="M40.2 102.4H47" stroke="#1f6428" stroke-width="1.25"/>
<text x="47.7" y="104.9" font-size="7.6" fill="#1f6428" stroke="#1f6428" stroke-width="0.22" textLength="45.5" lengthAdjust="spacingAndGlyphs">MA(10) 16.84</text>
<path d="M40.7 112.6v-3M42.4 112.6v-5.4M44.1 112.6v-4.6M45.8 112.6v-4.1" stroke="#333" stroke-width="1.35"/>
<text x="47.7" y="112.5" font-size="7.6" fill="#444" stroke="#444" stroke-width="0.22" textLength="53" lengthAdjust="spacingAndGlyphs">Volume 118,796</text>
<text x="38.2" y="13.7" font-size="10.4" fill="#000" stroke="#000" stroke-width="0.38" font-weight="bold" textLength="20.4" lengthAdjust="spacingAndGlyphs">GPX</text>
<text x="61.6" y="13.4" font-size="8.2" fill="#222" stroke="#222" stroke-width="0.22" textLength="69.5" lengthAdjust="spacingAndGlyphs">GPStrategies Corp.</text>
<text x="136" y="13.2" font-size="6.4" fill="#222" stroke="#222" stroke-width="0.38" font-weight="bold" textLength="20.5" lengthAdjust="spacingAndGlyphs">NYSE</text>
<text x="1097" y="12.6" font-size="8.2" fill="#666" stroke="#666" stroke-width="0.22" textLength="68.5" lengthAdjust="spacingAndGlyphs">©StockCharts.com</text>
<text x="41.6" y="24.8" font-size="8.4" fill="#222" stroke="#222" stroke-width="0.22" textLength="141" lengthAdjust="spacingAndGlyphs">Industrial / Business Support Services</text>
<text x="41.6" y="35.6" font-size="8.3" fill="#222" stroke="#222" stroke-width="0.22" textLength="21.5" lengthAdjust="spacingAndGlyphs">Open:</text>
<text x="112.3" y="35.6" font-size="9" fill="#000" stroke="#000" stroke-width="0.38" font-weight="bold" text-anchor="end" textLength="22.3" lengthAdjust="spacingAndGlyphs">17.39</text>
<text x="141.3" y="35.6" font-size="8.3" fill="#222" stroke="#222" stroke-width="0.22" textLength="16" lengthAdjust="spacingAndGlyphs">Ask:</text>
<text x="215.8" y="35.6" font-size="8.3" fill="#222" stroke="#222" stroke-width="0.22" textLength="14.5" lengthAdjust="spacingAndGlyphs">P/E:</text>
<text x="283" y="35.6" font-size="9" fill="#000" stroke="#000" stroke-width="0.38" font-weight="bold" text-anchor="end" textLength="23" lengthAdjust="spacingAndGlyphs">44.75</text>
<text x="312" y="35.6" font-size="8.3" fill="#222" stroke="#222" stroke-width="0.22" textLength="29.5" lengthAdjust="spacingAndGlyphs">Options:</text>
<text x="393" y="35.6" font-size="9" fill="#000" stroke="#000" stroke-width="0.38" font-weight="bold" text-anchor="end" textLength="15.5" lengthAdjust="spacingAndGlyphs">yes</text>
<text x="41.6" y="46.7" font-size="8.3" fill="#222" stroke="#222" stroke-width="0.22" textLength="18" lengthAdjust="spacingAndGlyphs">High:</text>
<text x="112.3" y="46.7" font-size="9" fill="#000" stroke="#000" stroke-width="0.38" font-weight="bold" text-anchor="end" textLength="22.3" lengthAdjust="spacingAndGlyphs">18.09</text>
<text x="141.3" y="46.7" font-size="8.3" fill="#222" stroke="#222" stroke-width="0.22" textLength="34.5" lengthAdjust="spacingAndGlyphs">Ask Size:</text>
<text x="215.8" y="46.7" font-size="8.3" fill="#222" stroke="#222" stroke-width="0.22" textLength="17.5" lengthAdjust="spacingAndGlyphs">EPS:</text>
<text x="283" y="46.7" font-size="9" fill="#000" stroke="#000" stroke-width="0.38" font-weight="bold" text-anchor="end" textLength="18" lengthAdjust="spacingAndGlyphs">0.39</text>
<text x="312" y="46.7" font-size="8.3" fill="#222" stroke="#222" stroke-width="0.22" textLength="61" lengthAdjust="spacingAndGlyphs">Annual Dividend:</text>
<text x="393" y="46.7" font-size="9" fill="#000" stroke="#000" stroke-width="0.38" font-weight="bold" text-anchor="end" textLength="14.5" lengthAdjust="spacingAndGlyphs">N/A</text>
<text x="41.6" y="57.6" font-size="8.3" fill="#222" stroke="#222" stroke-width="0.22" textLength="18.5" lengthAdjust="spacingAndGlyphs">Low:</text>
<text x="112.3" y="57.6" font-size="9" fill="#000" stroke="#000" stroke-width="0.38" font-weight="bold" text-anchor="end" textLength="22.3" lengthAdjust="spacingAndGlyphs">17.24</text>
<text x="141.3" y="57.6" font-size="8.3" fill="#222" stroke="#222" stroke-width="0.22" textLength="13.5" lengthAdjust="spacingAndGlyphs">Bid:</text>
<text x="215.8" y="57.6" font-size="8.3" fill="#222" stroke="#222" stroke-width="0.22" textLength="32" lengthAdjust="spacingAndGlyphs">Mkt Cap:</text>
<text x="283" y="57.6" font-size="9" fill="#000" stroke="#000" stroke-width="0.38" font-weight="bold" text-anchor="end" textLength="31" lengthAdjust="spacingAndGlyphs">298.5M</text>
<text x="312" y="57.6" font-size="8.3" fill="#222" stroke="#222" stroke-width="0.22" textLength="20" lengthAdjust="spacingAndGlyphs">Yield:</text>
<text x="393" y="57.6" font-size="9" fill="#000" stroke="#000" stroke-width="0.38" font-weight="bold" text-anchor="end" textLength="14.5" lengthAdjust="spacingAndGlyphs">N/A</text>
<text x="41.6" y="68.7" font-size="8.3" fill="#222" stroke="#222" stroke-width="0.22" textLength="41.8" lengthAdjust="spacingAndGlyphs">Prev Close:</text>
<text x="112.3" y="68.7" font-size="9" fill="#000" stroke="#000" stroke-width="0.38" font-weight="bold" text-anchor="end" textLength="22.3" lengthAdjust="spacingAndGlyphs">17.04</text>
<text x="141.3" y="68.7" font-size="8.3" fill="#222" stroke="#222" stroke-width="0.22" textLength="31.5" lengthAdjust="spacingAndGlyphs">Bid Size:</text>
<text x="215.8" y="68.7" font-size="8.3" fill="#222" stroke="#222" stroke-width="0.22" textLength="37" lengthAdjust="spacingAndGlyphs">Last Size:</text>
<text x="312" y="68.7" font-size="8.3" fill="#222" stroke="#222" stroke-width="0.22" textLength="50" lengthAdjust="spacingAndGlyphs">SCTR (Small):</text>
<text x="393" y="68.7" font-size="9" fill="#000" stroke="#000" stroke-width="0.38" font-weight="bold" text-anchor="end" textLength="18" lengthAdjust="spacingAndGlyphs">85.0</text>
<text x="1077" y="24.6" font-size="8.3" fill="#222" stroke="#222" stroke-width="0.22" textLength="31" lengthAdjust="spacingAndGlyphs">Tuesday</text>
<text x="1113.5" y="24.6" font-size="8.3" fill="#222" stroke="#222" stroke-width="0.22" textLength="46" lengthAdjust="spacingAndGlyphs">30-Mar-2021</text>
<path d="M1095 36.2L1098.4 29.6L1101.8 36.2Z" fill="#2f6a34"/>
<text x="1160.5" y="36.4" font-size="10.5" fill="#2f6a34" stroke="#2f6a34" stroke-width="0.38" font-weight="bold" text-anchor="end" textLength="38" lengthAdjust="spacingAndGlyphs">+3.05%</text>
<text x="1092" y="47.2" font-size="8.3" fill="#222" stroke="#222" stroke-width="0.22" textLength="15.5" lengthAdjust="spacingAndGlyphs">Chg:</text>
<text x="1160.5" y="47.2" font-size="9" fill="#000" stroke="#000" stroke-width="0.38" font-weight="bold" text-anchor="end" textLength="23.5" lengthAdjust="spacingAndGlyphs">+0.52</text>
<text x="1092" y="58.2" font-size="8.3" fill="#222" stroke="#222" stroke-width="0.22" textLength="17" lengthAdjust="spacingAndGlyphs">Last:</text>
<text x="1160.5" y="58.2" font-size="9" fill="#000" stroke="#000" stroke-width="0.38" font-weight="bold" text-anchor="end" textLength="22.5" lengthAdjust="spacingAndGlyphs">17.56</text>
<text x="1092" y="69.2" font-size="8.3" fill="#222" stroke="#222" stroke-width="0.22" textLength="27" lengthAdjust="spacingAndGlyphs">Volume:</text>
<text x="1160.5" y="69.2" font-size="9" fill="#000" stroke="#000" stroke-width="0.38" font-weight="bold" text-anchor="end" textLength="32.5" lengthAdjust="spacingAndGlyphs">118,796</text>
<defs><filter id="sh" x="-5%" y="-20%" width="110%" height="150%"><feGaussianBlur in="SourceAlpha" stdDeviation="1.3"/><feOffset dx="0" dy="1.6" result="b"/><feComponentTransfer><feFuncA type="linear" slope="0.38"/></feComponentTransfer><feMerge><feMergeNode/><feMergeNode in="SourceGraphic"/></feMerge></filter></defs>
<rect x="1097.9" y="71.6" width="74.9" height="89.2" fill="none" stroke="#e63210" stroke-width="5.3" stroke-linejoin="round"/>
<g filter="url(#sh)" font-weight="bold" font-size="27" letter-spacing="0.28">
<text x="797" y="37.8" stroke="#fff" stroke-width="4.6" stroke-linejoin="round" fill="#fff">Forming new</text>
<text x="796.3" y="74.7" stroke="#fff" stroke-width="4.6" stroke-linejoin="round" fill="#fff">consolidation near</text>
<text x="796.8" y="111.0" stroke="#fff" stroke-width="4.6" stroke-linejoin="round" fill="#fff">10-day line</text>
<text x="797" y="37.8" fill="#e63210" stroke="#e63210" stroke-width="0.5">Forming new</text>
<text x="796.3" y="74.7" fill="#e63210" stroke="#e63210" stroke-width="0.5">consolidation near</text>
<text x="796.8" y="111.0" fill="#e63210" stroke="#e63210" stroke-width="0.5">10-day line</text>
</g>
</svg>
</body></html>
